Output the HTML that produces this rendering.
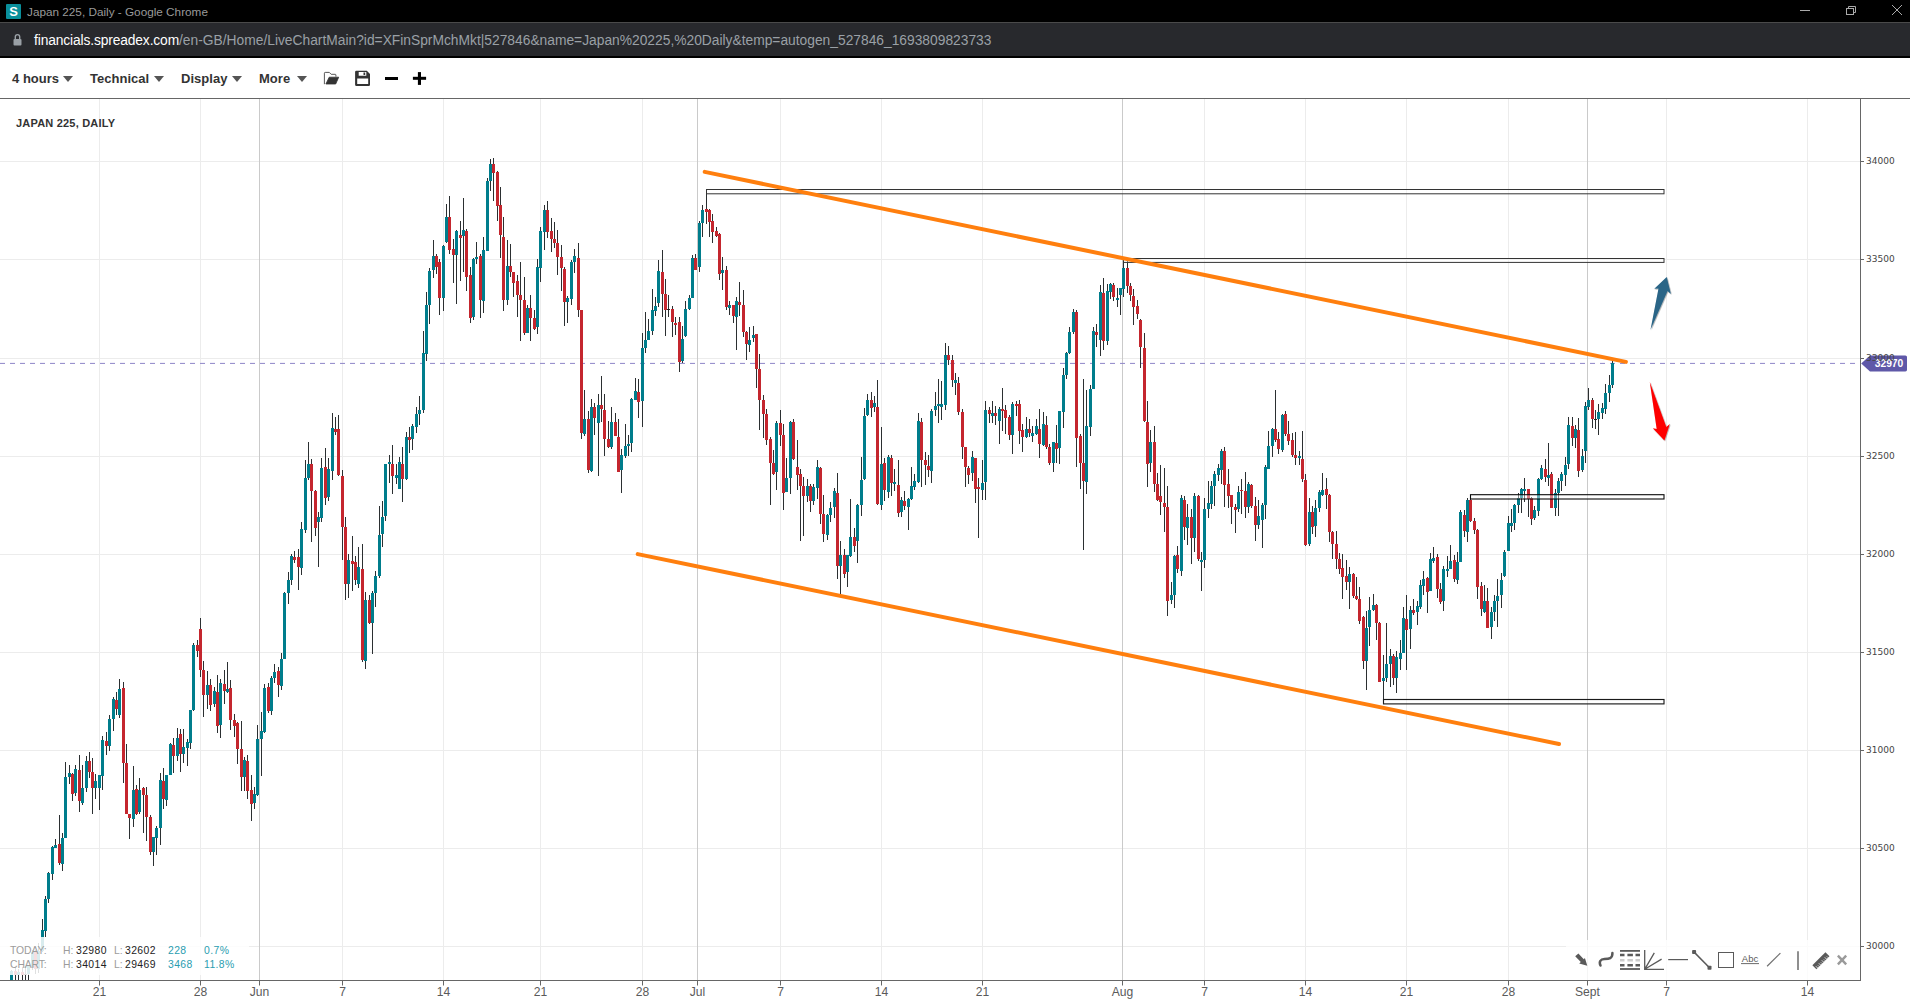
<!DOCTYPE html><html><head><meta charset="utf-8"><title>Japan 225, Daily</title><style>

html,body{margin:0;padding:0;background:#fff;}
body{width:1910px;height:1005px;overflow:hidden;position:relative;font-family:"Liberation Sans","DejaVu Sans",sans-serif;}
#titlebar{position:absolute;left:0;top:0;width:1910px;height:22px;background:#000;}
#titlebar .fav{position:absolute;left:6px;top:4px;width:15px;height:15px;background:#0a8f9b;color:#fff;font-weight:bold;font-size:13px;line-height:15px;text-align:center;border-radius:1px;}
#titlebar .ttl{position:absolute;left:27px;top:4.4px;font-size:11.75px;line-height:15px;color:#9a9a9a;white-space:nowrap;}
#urlbar{position:absolute;left:0;top:22px;width:1910px;height:36px;background:#28292d;border-top:1px solid #4a4a4a;box-sizing:border-box;border-bottom:2px solid #000;}
#urlbar .url{position:absolute;left:34px;top:8.8px;font-size:13.8px;line-height:18px;color:#9aa0a6;white-space:nowrap;}
#urlbar .url b{font-weight:normal;color:#fff;letter-spacing:-0.13px;}
#blk{position:absolute;left:0;top:57px;width:1910px;height:1px;background:#000;}
#toolbar{position:absolute;left:0;top:58px;width:1910px;height:40px;background:#fff;border-bottom:1px solid #666;}
#toolbar .mi{position:absolute;top:13px;font-size:13px;font-weight:bold;color:#333;line-height:16px;white-space:nowrap;letter-spacing:0.02px;}
#toolbar .car{position:absolute;top:18px;width:0;height:0;border-left:5px solid transparent;border-right:5px solid transparent;border-top:6px solid #555;}
.lbl{position:absolute;white-space:nowrap;color:#555;font-size:12px;line-height:14px;}
.yl{position:absolute;left:1866px;font-family:"DejaVu Sans","Liberation Sans",sans-serif;font-size:9px;line-height:12px;color:#444;white-space:nowrap;}
.xl{position:absolute;top:985px;font-size:12.1px;line-height:14px;color:#5a5a5a;white-space:nowrap;transform:translateX(-50%);}
#name{position:absolute;left:16px;top:117px;font-size:11px;line-height:13px;font-weight:bold;color:#333;letter-spacing:0.2px;white-space:nowrap;}
#stats{position:absolute;left:0px;top:937px;width:249px;height:37.8px;background:rgba(255,255,255,0.85);}
#stats span{position:absolute;font-size:10.4px;line-height:12px;white-space:nowrap;letter-spacing:0;}
#stats .g{color:#9c9c9c;letter-spacing:-0.12px;} #stats .k{color:#222;letter-spacing:0.4px;} #stats .t{color:#2a9db0;letter-spacing:0.4px;}
#dtools{position:absolute;left:1566px;top:940px;width:294px;height:40px;background:rgba(255,255,255,0.8);}
svg{position:absolute;left:0;top:0;}

</style></head><body>
<svg width="1910" height="1005" viewBox="0 0 1910 1005" style="z-index:1">
<line x1="0" x2="1860.5" y1="946.5" y2="946.5" stroke="#ececec" stroke-width="1"/>
<line x1="0" x2="1860.5" y1="848.5" y2="848.5" stroke="#ececec" stroke-width="1"/>
<line x1="0" x2="1860.5" y1="750.5" y2="750.5" stroke="#ececec" stroke-width="1"/>
<line x1="0" x2="1860.5" y1="652.5" y2="652.5" stroke="#ececec" stroke-width="1"/>
<line x1="0" x2="1860.5" y1="554.5" y2="554.5" stroke="#ececec" stroke-width="1"/>
<line x1="0" x2="1860.5" y1="456.5" y2="456.5" stroke="#ececec" stroke-width="1"/>
<line x1="0" x2="1860.5" y1="358.5" y2="358.5" stroke="#ececec" stroke-width="1"/>
<line x1="0" x2="1860.5" y1="259.5" y2="259.5" stroke="#ececec" stroke-width="1"/>
<line x1="0" x2="1860.5" y1="161.5" y2="161.5" stroke="#ececec" stroke-width="1"/>
<line x1="99.5" x2="99.5" y1="99.0" y2="980.5" stroke="#ececec" stroke-width="1"/>
<line x1="99.5" x2="99.5" y1="980.5" y2="985.5" stroke="#666" stroke-width="1"/>
<line x1="200.5" x2="200.5" y1="99.0" y2="980.5" stroke="#ececec" stroke-width="1"/>
<line x1="200.5" x2="200.5" y1="980.5" y2="985.5" stroke="#666" stroke-width="1"/>
<line x1="259.5" x2="259.5" y1="99.0" y2="980.5" stroke="#cacaca" stroke-width="1"/>
<line x1="259.5" x2="259.5" y1="980.5" y2="985.5" stroke="#666" stroke-width="1"/>
<line x1="342.5" x2="342.5" y1="99.0" y2="980.5" stroke="#ececec" stroke-width="1"/>
<line x1="342.5" x2="342.5" y1="980.5" y2="985.5" stroke="#666" stroke-width="1"/>
<line x1="443.5" x2="443.5" y1="99.0" y2="980.5" stroke="#ececec" stroke-width="1"/>
<line x1="443.5" x2="443.5" y1="980.5" y2="985.5" stroke="#666" stroke-width="1"/>
<line x1="540.5" x2="540.5" y1="99.0" y2="980.5" stroke="#ececec" stroke-width="1"/>
<line x1="540.5" x2="540.5" y1="980.5" y2="985.5" stroke="#666" stroke-width="1"/>
<line x1="642.5" x2="642.5" y1="99.0" y2="980.5" stroke="#ececec" stroke-width="1"/>
<line x1="642.5" x2="642.5" y1="980.5" y2="985.5" stroke="#666" stroke-width="1"/>
<line x1="697.5" x2="697.5" y1="99.0" y2="980.5" stroke="#cacaca" stroke-width="1"/>
<line x1="697.5" x2="697.5" y1="980.5" y2="985.5" stroke="#666" stroke-width="1"/>
<line x1="780.5" x2="780.5" y1="99.0" y2="980.5" stroke="#ececec" stroke-width="1"/>
<line x1="780.5" x2="780.5" y1="980.5" y2="985.5" stroke="#666" stroke-width="1"/>
<line x1="881.5" x2="881.5" y1="99.0" y2="980.5" stroke="#ececec" stroke-width="1"/>
<line x1="881.5" x2="881.5" y1="980.5" y2="985.5" stroke="#666" stroke-width="1"/>
<line x1="982.5" x2="982.5" y1="99.0" y2="980.5" stroke="#ececec" stroke-width="1"/>
<line x1="982.5" x2="982.5" y1="980.5" y2="985.5" stroke="#666" stroke-width="1"/>
<line x1="1122.5" x2="1122.5" y1="99.0" y2="980.5" stroke="#cacaca" stroke-width="1"/>
<line x1="1122.5" x2="1122.5" y1="980.5" y2="985.5" stroke="#666" stroke-width="1"/>
<line x1="1204.5" x2="1204.5" y1="99.0" y2="980.5" stroke="#ececec" stroke-width="1"/>
<line x1="1204.5" x2="1204.5" y1="980.5" y2="985.5" stroke="#666" stroke-width="1"/>
<line x1="1305.5" x2="1305.5" y1="99.0" y2="980.5" stroke="#ececec" stroke-width="1"/>
<line x1="1305.5" x2="1305.5" y1="980.5" y2="985.5" stroke="#666" stroke-width="1"/>
<line x1="1406.5" x2="1406.5" y1="99.0" y2="980.5" stroke="#ececec" stroke-width="1"/>
<line x1="1406.5" x2="1406.5" y1="980.5" y2="985.5" stroke="#666" stroke-width="1"/>
<line x1="1508.5" x2="1508.5" y1="99.0" y2="980.5" stroke="#ececec" stroke-width="1"/>
<line x1="1508.5" x2="1508.5" y1="980.5" y2="985.5" stroke="#666" stroke-width="1"/>
<line x1="1587.5" x2="1587.5" y1="99.0" y2="980.5" stroke="#cacaca" stroke-width="1"/>
<line x1="1587.5" x2="1587.5" y1="980.5" y2="985.5" stroke="#666" stroke-width="1"/>
<line x1="1666.5" x2="1666.5" y1="99.0" y2="980.5" stroke="#ececec" stroke-width="1"/>
<line x1="1666.5" x2="1666.5" y1="980.5" y2="985.5" stroke="#666" stroke-width="1"/>
<line x1="1807.5" x2="1807.5" y1="99.0" y2="980.5" stroke="#ececec" stroke-width="1"/>
<line x1="1807.5" x2="1807.5" y1="980.5" y2="985.5" stroke="#666" stroke-width="1"/>
<line x1="1860.5" x2="1860.5" y1="98.5" y2="981.0" stroke="#666" stroke-width="1"/>
<line x1="0" x2="1861.0" y1="980.5" y2="980.5" stroke="#666" stroke-width="1"/>
<line x1="1860.5" x2="1864.0" y1="946.5" y2="946.5" stroke="#666" stroke-width="1"/>
<line x1="1860.5" x2="1864.0" y1="848.5" y2="848.5" stroke="#666" stroke-width="1"/>
<line x1="1860.5" x2="1864.0" y1="750.5" y2="750.5" stroke="#666" stroke-width="1"/>
<line x1="1860.5" x2="1864.0" y1="652.5" y2="652.5" stroke="#666" stroke-width="1"/>
<line x1="1860.5" x2="1864.0" y1="554.5" y2="554.5" stroke="#666" stroke-width="1"/>
<line x1="1860.5" x2="1864.0" y1="456.5" y2="456.5" stroke="#666" stroke-width="1"/>
<line x1="1860.5" x2="1864.0" y1="358.5" y2="358.5" stroke="#666" stroke-width="1"/>
<line x1="1860.5" x2="1864.0" y1="259.5" y2="259.5" stroke="#666" stroke-width="1"/>
<line x1="1860.5" x2="1864.0" y1="161.5" y2="161.5" stroke="#666" stroke-width="1"/>
<line x1="0" x2="1855.5" y1="363.4" y2="363.4" stroke="#8f86c9" stroke-width="1" stroke-dasharray="5,5"/>
<g id="candles" shape-rendering="crispEdges">
<rect x="11" y="969.8" width="1" height="10.2" fill="#2b2f31"/>
<rect x="10" y="971.2" width="3" height="8.8" fill="#007d8c"/>
<rect x="15" y="966.7" width="1" height="13.3" fill="#2b2f31"/>
<rect x="14" y="971.0" width="3" height="3.5" fill="#c4262e"/>
<rect x="18" y="969.2" width="1" height="10.8" fill="#2b2f31"/>
<rect x="17" y="972.2" width="3" height="2.7" fill="#007d8c"/>
<rect x="22" y="966.7" width="1" height="13.3" fill="#2b2f31"/>
<rect x="21" y="972.2" width="3" height="2.7" fill="#c4262e"/>
<rect x="25" y="966.1" width="1" height="13.9" fill="#2b2f31"/>
<rect x="24" y="973.9" width="3" height="1.0" fill="#222"/>
<rect x="28" y="966.1" width="1" height="13.9" fill="#2b2f31"/>
<rect x="27" y="966.1" width="3" height="7.8" fill="#007d8c"/>
<rect x="32" y="950.4" width="1" height="19.4" fill="#2b2f31"/>
<rect x="31" y="952.4" width="3" height="14.3" fill="#007d8c"/>
<rect x="35" y="950.4" width="1" height="23.5" fill="#2b2f31"/>
<rect x="34" y="952.4" width="3" height="16.3" fill="#c4262e"/>
<rect x="38" y="943.3" width="1" height="29.6" fill="#2b2f31"/>
<rect x="37" y="951.2" width="3" height="17.3" fill="#007d8c"/>
<rect x="42" y="918.8" width="1" height="32.7" fill="#2b2f31"/>
<rect x="41" y="930.0" width="3" height="20.6" fill="#007d8c"/>
<rect x="45" y="896.3" width="1" height="40.8" fill="#2b2f31"/>
<rect x="44" y="899.4" width="3" height="31.6" fill="#007d8c"/>
<rect x="48" y="871.8" width="1" height="31.6" fill="#2b2f31"/>
<rect x="47" y="872.9" width="3" height="26.5" fill="#007d8c"/>
<rect x="52" y="846.3" width="1" height="33.7" fill="#2b2f31"/>
<rect x="51" y="847.3" width="3" height="26.5" fill="#007d8c"/>
<rect x="55" y="839.2" width="1" height="9.2" fill="#2b2f31"/>
<rect x="54" y="845.3" width="3" height="3.1" fill="#007d8c"/>
<rect x="59" y="814.7" width="1" height="50.0" fill="#2b2f31"/>
<rect x="58" y="844.3" width="3" height="18.4" fill="#c4262e"/>
<rect x="62" y="833.1" width="1" height="37.8" fill="#2b2f31"/>
<rect x="61" y="838.2" width="3" height="25.5" fill="#007d8c"/>
<rect x="65" y="762.4" width="1" height="75.7" fill="#2b2f31"/>
<rect x="64" y="776.7" width="3" height="61.4" fill="#007d8c"/>
<rect x="69" y="764.5" width="1" height="19.6" fill="#2b2f31"/>
<rect x="68" y="773.3" width="3" height="3.5" fill="#007d8c"/>
<rect x="72" y="772.7" width="1" height="27.8" fill="#2b2f31"/>
<rect x="71" y="773.7" width="3" height="20.6" fill="#c4262e"/>
<rect x="75" y="765.1" width="1" height="31.2" fill="#2b2f31"/>
<rect x="74" y="769.2" width="3" height="24.1" fill="#007d8c"/>
<rect x="79" y="755.3" width="1" height="56.3" fill="#2b2f31"/>
<rect x="78" y="770.0" width="3" height="31.4" fill="#c4262e"/>
<rect x="82" y="765.1" width="1" height="39.4" fill="#2b2f31"/>
<rect x="81" y="788.2" width="3" height="14.3" fill="#007d8c"/>
<rect x="86" y="756.3" width="1" height="35.7" fill="#2b2f31"/>
<rect x="85" y="761.0" width="3" height="26.7" fill="#007d8c"/>
<rect x="89" y="752.2" width="1" height="25.5" fill="#2b2f31"/>
<rect x="88" y="761.0" width="3" height="11.0" fill="#c4262e"/>
<rect x="92" y="758.4" width="1" height="55.3" fill="#2b2f31"/>
<rect x="91" y="772.2" width="3" height="15.9" fill="#c4262e"/>
<rect x="95" y="774.1" width="1" height="25.3" fill="#2b2f31"/>
<rect x="94" y="781.2" width="3" height="6.9" fill="#007d8c"/>
<rect x="99" y="774.7" width="1" height="34.9" fill="#2b2f31"/>
<rect x="98" y="775.1" width="3" height="12.7" fill="#007d8c"/>
<rect x="102" y="735.9" width="1" height="54.1" fill="#2b2f31"/>
<rect x="101" y="740.0" width="3" height="35.7" fill="#007d8c"/>
<rect x="106" y="732.2" width="1" height="22.7" fill="#2b2f31"/>
<rect x="105" y="741.0" width="3" height="5.1" fill="#c4262e"/>
<rect x="109" y="715.1" width="1" height="35.7" fill="#2b2f31"/>
<rect x="108" y="719.0" width="3" height="27.1" fill="#007d8c"/>
<rect x="113" y="697.1" width="1" height="33.7" fill="#2b2f31"/>
<rect x="112" y="699.2" width="3" height="19.8" fill="#007d8c"/>
<rect x="116" y="692.0" width="1" height="22.9" fill="#2b2f31"/>
<rect x="115" y="700.2" width="3" height="9.2" fill="#c4262e"/>
<rect x="119" y="679.0" width="1" height="39.0" fill="#2b2f31"/>
<rect x="118" y="689.0" width="3" height="25.9" fill="#007d8c"/>
<rect x="123" y="682.2" width="1" height="100.6" fill="#2b2f31"/>
<rect x="122" y="688.4" width="3" height="74.7" fill="#c4262e"/>
<rect x="126" y="744.1" width="1" height="69.6" fill="#2b2f31"/>
<rect x="125" y="763.1" width="3" height="50.6" fill="#c4262e"/>
<rect x="129" y="813.7" width="1" height="25.1" fill="#2b2f31"/>
<rect x="128" y="813.7" width="3" height="4.1" fill="#c4262e"/>
<rect x="133" y="765.9" width="1" height="61.4" fill="#2b2f31"/>
<rect x="132" y="790.2" width="3" height="28.6" fill="#007d8c"/>
<rect x="136" y="784.9" width="1" height="29.8" fill="#2b2f31"/>
<rect x="135" y="789.0" width="3" height="24.7" fill="#c4262e"/>
<rect x="139" y="778.2" width="1" height="35.5" fill="#2b2f31"/>
<rect x="138" y="790.0" width="3" height="22.2" fill="#007d8c"/>
<rect x="143" y="786.9" width="1" height="46.5" fill="#2b2f31"/>
<rect x="142" y="788.2" width="3" height="7.1" fill="#c4262e"/>
<rect x="146" y="786.9" width="1" height="53.9" fill="#2b2f31"/>
<rect x="145" y="795.3" width="3" height="21.4" fill="#c4262e"/>
<rect x="150" y="814.7" width="1" height="39.8" fill="#2b2f31"/>
<rect x="149" y="816.7" width="3" height="35.7" fill="#c4262e"/>
<rect x="153" y="837.1" width="1" height="28.6" fill="#2b2f31"/>
<rect x="152" y="837.1" width="3" height="15.3" fill="#007d8c"/>
<rect x="156" y="825.9" width="1" height="28.6" fill="#2b2f31"/>
<rect x="155" y="828.0" width="3" height="10.2" fill="#007d8c"/>
<rect x="160" y="772.9" width="1" height="71.6" fill="#2b2f31"/>
<rect x="159" y="780.4" width="3" height="47.3" fill="#007d8c"/>
<rect x="163" y="768.2" width="1" height="40.8" fill="#2b2f31"/>
<rect x="162" y="781.4" width="3" height="17.3" fill="#c4262e"/>
<rect x="166" y="775.3" width="1" height="30.6" fill="#2b2f31"/>
<rect x="165" y="775.3" width="3" height="24.5" fill="#007d8c"/>
<rect x="170" y="742.7" width="1" height="32.7" fill="#2b2f31"/>
<rect x="169" y="743.7" width="3" height="31.6" fill="#007d8c"/>
<rect x="173" y="737.6" width="1" height="35.7" fill="#2b2f31"/>
<rect x="172" y="744.7" width="3" height="11.2" fill="#c4262e"/>
<rect x="177" y="728.0" width="1" height="33.1" fill="#2b2f31"/>
<rect x="176" y="737.6" width="3" height="18.4" fill="#007d8c"/>
<rect x="180" y="729.4" width="1" height="42.4" fill="#2b2f31"/>
<rect x="179" y="734.1" width="3" height="19.8" fill="#c4262e"/>
<rect x="183" y="729.4" width="1" height="33.7" fill="#2b2f31"/>
<rect x="182" y="746.7" width="3" height="7.1" fill="#007d8c"/>
<rect x="187" y="739.0" width="1" height="27.1" fill="#2b2f31"/>
<rect x="186" y="742.2" width="3" height="5.5" fill="#007d8c"/>
<rect x="190" y="709.6" width="1" height="39.2" fill="#2b2f31"/>
<rect x="189" y="710.0" width="3" height="32.7" fill="#007d8c"/>
<rect x="193" y="642.7" width="1" height="68.4" fill="#2b2f31"/>
<rect x="192" y="645.1" width="3" height="65.3" fill="#007d8c"/>
<rect x="197" y="640.2" width="1" height="16.3" fill="#2b2f31"/>
<rect x="196" y="645.1" width="3" height="6.3" fill="#c4262e"/>
<rect x="200" y="618.2" width="1" height="59.2" fill="#2b2f31"/>
<rect x="199" y="629.4" width="3" height="40.2" fill="#c4262e"/>
<rect x="203" y="661.0" width="1" height="55.5" fill="#2b2f31"/>
<rect x="202" y="670.2" width="3" height="24.5" fill="#c4262e"/>
<rect x="207" y="671.2" width="1" height="37.8" fill="#2b2f31"/>
<rect x="206" y="685.1" width="3" height="9.6" fill="#007d8c"/>
<rect x="210" y="679.4" width="1" height="31.2" fill="#2b2f31"/>
<rect x="209" y="685.1" width="3" height="19.8" fill="#c4262e"/>
<rect x="214" y="687.1" width="1" height="19.8" fill="#2b2f31"/>
<rect x="213" y="691.2" width="3" height="12.7" fill="#007d8c"/>
<rect x="217" y="675.3" width="1" height="57.6" fill="#2b2f31"/>
<rect x="216" y="692.0" width="3" height="33.7" fill="#c4262e"/>
<rect x="220" y="679.4" width="1" height="58.6" fill="#2b2f31"/>
<rect x="219" y="683.1" width="3" height="41.6" fill="#007d8c"/>
<rect x="224" y="670.2" width="1" height="34.1" fill="#2b2f31"/>
<rect x="223" y="683.9" width="3" height="6.7" fill="#c4262e"/>
<rect x="227" y="662.0" width="1" height="31.2" fill="#2b2f31"/>
<rect x="226" y="689.2" width="3" height="2.4" fill="#007d8c"/>
<rect x="230" y="680.4" width="1" height="50.0" fill="#2b2f31"/>
<rect x="229" y="688.2" width="3" height="31.6" fill="#c4262e"/>
<rect x="234" y="713.5" width="1" height="23.1" fill="#2b2f31"/>
<rect x="233" y="720.2" width="3" height="5.5" fill="#c4262e"/>
<rect x="237" y="721.8" width="1" height="42.2" fill="#2b2f31"/>
<rect x="236" y="723.3" width="3" height="25.5" fill="#c4262e"/>
<rect x="241" y="721.2" width="1" height="69.4" fill="#2b2f31"/>
<rect x="240" y="749.2" width="3" height="27.6" fill="#c4262e"/>
<rect x="244" y="757.3" width="1" height="33.9" fill="#2b2f31"/>
<rect x="243" y="760.4" width="3" height="16.9" fill="#007d8c"/>
<rect x="247" y="755.3" width="1" height="43.5" fill="#2b2f31"/>
<rect x="246" y="761.0" width="3" height="29.6" fill="#c4262e"/>
<rect x="251" y="775.3" width="1" height="45.3" fill="#2b2f31"/>
<rect x="250" y="790.2" width="3" height="13.3" fill="#c4262e"/>
<rect x="254" y="786.5" width="1" height="22.4" fill="#2b2f31"/>
<rect x="253" y="794.3" width="3" height="8.6" fill="#007d8c"/>
<rect x="257" y="725.3" width="1" height="70.8" fill="#2b2f31"/>
<rect x="256" y="739.0" width="3" height="56.3" fill="#007d8c"/>
<rect x="261" y="712.0" width="1" height="63.7" fill="#2b2f31"/>
<rect x="260" y="731.4" width="3" height="7.6" fill="#007d8c"/>
<rect x="264" y="683.5" width="1" height="49.0" fill="#2b2f31"/>
<rect x="263" y="688.0" width="3" height="43.9" fill="#007d8c"/>
<rect x="268" y="683.1" width="1" height="29.6" fill="#2b2f31"/>
<rect x="267" y="687.1" width="3" height="23.5" fill="#c4262e"/>
<rect x="271" y="676.3" width="1" height="38.4" fill="#2b2f31"/>
<rect x="270" y="678.4" width="3" height="32.2" fill="#007d8c"/>
<rect x="274" y="664.1" width="1" height="19.0" fill="#2b2f31"/>
<rect x="273" y="672.2" width="3" height="5.5" fill="#007d8c"/>
<rect x="278" y="667.1" width="1" height="29.6" fill="#2b2f31"/>
<rect x="277" y="671.2" width="3" height="13.3" fill="#c4262e"/>
<rect x="281" y="653.3" width="1" height="36.7" fill="#2b2f31"/>
<rect x="280" y="659.0" width="3" height="26.5" fill="#007d8c"/>
<rect x="284" y="592.0" width="1" height="66.5" fill="#2b2f31"/>
<rect x="283" y="593.1" width="3" height="65.5" fill="#007d8c"/>
<rect x="288" y="572.2" width="1" height="31.4" fill="#2b2f31"/>
<rect x="287" y="580.4" width="3" height="12.2" fill="#007d8c"/>
<rect x="291" y="554.3" width="1" height="30.6" fill="#2b2f31"/>
<rect x="290" y="556.3" width="3" height="23.5" fill="#007d8c"/>
<rect x="294" y="551.2" width="1" height="12.2" fill="#2b2f31"/>
<rect x="293" y="557.3" width="3" height="3.1" fill="#c4262e"/>
<rect x="298" y="549.2" width="1" height="40.8" fill="#2b2f31"/>
<rect x="297" y="557.3" width="3" height="9.2" fill="#c4262e"/>
<rect x="301" y="522.0" width="1" height="52.7" fill="#2b2f31"/>
<rect x="300" y="529.2" width="3" height="38.4" fill="#007d8c"/>
<rect x="305" y="460.4" width="1" height="72.4" fill="#2b2f31"/>
<rect x="304" y="478.2" width="3" height="51.6" fill="#007d8c"/>
<rect x="308" y="442.0" width="1" height="37.8" fill="#2b2f31"/>
<rect x="307" y="464.1" width="3" height="14.1" fill="#007d8c"/>
<rect x="311" y="459.4" width="1" height="82.2" fill="#2b2f31"/>
<rect x="310" y="464.1" width="3" height="27.3" fill="#c4262e"/>
<rect x="315" y="490.0" width="1" height="45.9" fill="#2b2f31"/>
<rect x="314" y="491.0" width="3" height="36.7" fill="#c4262e"/>
<rect x="318" y="511.8" width="1" height="55.1" fill="#2b2f31"/>
<rect x="317" y="517.1" width="3" height="4.5" fill="#007d8c"/>
<rect x="321" y="458.0" width="1" height="64.1" fill="#2b2f31"/>
<rect x="320" y="468.2" width="3" height="49.4" fill="#007d8c"/>
<rect x="325" y="448.2" width="1" height="56.7" fill="#2b2f31"/>
<rect x="324" y="467.1" width="3" height="30.6" fill="#c4262e"/>
<rect x="328" y="458.0" width="1" height="42.9" fill="#2b2f31"/>
<rect x="327" y="469.2" width="3" height="27.6" fill="#007d8c"/>
<rect x="332" y="413.1" width="1" height="67.3" fill="#2b2f31"/>
<rect x="331" y="428.2" width="3" height="42.4" fill="#007d8c"/>
<rect x="335" y="416.5" width="1" height="18.4" fill="#2b2f31"/>
<rect x="334" y="429.4" width="3" height="2.4" fill="#c4262e"/>
<rect x="338" y="415.1" width="1" height="60.6" fill="#2b2f31"/>
<rect x="337" y="428.8" width="3" height="46.3" fill="#c4262e"/>
<rect x="342" y="470.2" width="1" height="89.6" fill="#2b2f31"/>
<rect x="341" y="476.1" width="3" height="50.6" fill="#c4262e"/>
<rect x="345" y="517.1" width="1" height="82.4" fill="#2b2f31"/>
<rect x="344" y="527.1" width="3" height="56.7" fill="#c4262e"/>
<rect x="348" y="554.3" width="1" height="43.3" fill="#2b2f31"/>
<rect x="347" y="560.4" width="3" height="23.5" fill="#007d8c"/>
<rect x="352" y="535.9" width="1" height="54.7" fill="#2b2f31"/>
<rect x="351" y="561.4" width="3" height="2.4" fill="#c4262e"/>
<rect x="355" y="556.3" width="1" height="29.0" fill="#2b2f31"/>
<rect x="354" y="562.4" width="3" height="17.3" fill="#c4262e"/>
<rect x="358" y="547.1" width="1" height="40.8" fill="#2b2f31"/>
<rect x="357" y="566.5" width="3" height="17.3" fill="#007d8c"/>
<rect x="362" y="544.1" width="1" height="117.6" fill="#2b2f31"/>
<rect x="361" y="568.6" width="3" height="91.1" fill="#c4262e"/>
<rect x="365" y="592.0" width="1" height="76.8" fill="#2b2f31"/>
<rect x="364" y="600.2" width="3" height="60.6" fill="#007d8c"/>
<rect x="369" y="594.5" width="1" height="29.2" fill="#2b2f31"/>
<rect x="368" y="600.2" width="3" height="22.9" fill="#c4262e"/>
<rect x="372" y="591.0" width="1" height="62.7" fill="#2b2f31"/>
<rect x="371" y="593.1" width="3" height="29.6" fill="#007d8c"/>
<rect x="375" y="571.2" width="1" height="35.7" fill="#2b2f31"/>
<rect x="374" y="576.3" width="3" height="16.7" fill="#007d8c"/>
<rect x="379" y="505.7" width="1" height="72.0" fill="#2b2f31"/>
<rect x="378" y="535.3" width="3" height="41.0" fill="#007d8c"/>
<rect x="382" y="500.8" width="1" height="45.9" fill="#2b2f31"/>
<rect x="381" y="516.5" width="3" height="17.3" fill="#007d8c"/>
<rect x="385" y="463.5" width="1" height="57.1" fill="#2b2f31"/>
<rect x="384" y="464.1" width="3" height="51.8" fill="#007d8c"/>
<rect x="389" y="454.7" width="1" height="28.2" fill="#2b2f31"/>
<rect x="388" y="462.4" width="3" height="2.0" fill="#007d8c"/>
<rect x="392" y="445.1" width="1" height="49.0" fill="#2b2f31"/>
<rect x="391" y="463.5" width="3" height="12.2" fill="#c4262e"/>
<rect x="396" y="464.1" width="1" height="19.8" fill="#2b2f31"/>
<rect x="395" y="475.1" width="3" height="2.7" fill="#007d8c"/>
<rect x="399" y="457.3" width="1" height="31.6" fill="#2b2f31"/>
<rect x="398" y="462.4" width="3" height="26.1" fill="#007d8c"/>
<rect x="402" y="447.1" width="1" height="54.5" fill="#2b2f31"/>
<rect x="401" y="463.5" width="3" height="15.3" fill="#c4262e"/>
<rect x="406" y="431.8" width="1" height="48.0" fill="#2b2f31"/>
<rect x="405" y="436.9" width="3" height="41.8" fill="#007d8c"/>
<rect x="409" y="426.7" width="1" height="25.9" fill="#2b2f31"/>
<rect x="408" y="436.9" width="3" height="3.1" fill="#c4262e"/>
<rect x="412" y="423.7" width="1" height="26.1" fill="#2b2f31"/>
<rect x="411" y="425.7" width="3" height="13.3" fill="#007d8c"/>
<rect x="416" y="407.3" width="1" height="25.5" fill="#2b2f31"/>
<rect x="415" y="413.9" width="3" height="12.9" fill="#007d8c"/>
<rect x="419" y="396.1" width="1" height="28.6" fill="#2b2f31"/>
<rect x="418" y="410.4" width="3" height="3.1" fill="#007d8c"/>
<rect x="423" y="330.8" width="1" height="82.2" fill="#2b2f31"/>
<rect x="422" y="353.3" width="3" height="56.5" fill="#007d8c"/>
<rect x="426" y="292.0" width="1" height="68.8" fill="#2b2f31"/>
<rect x="425" y="305.3" width="3" height="48.4" fill="#007d8c"/>
<rect x="429" y="268.2" width="1" height="55.5" fill="#2b2f31"/>
<rect x="428" y="270.6" width="3" height="34.3" fill="#007d8c"/>
<rect x="433" y="240.0" width="1" height="37.8" fill="#2b2f31"/>
<rect x="432" y="256.3" width="3" height="13.3" fill="#007d8c"/>
<rect x="436" y="254.3" width="1" height="19.4" fill="#2b2f31"/>
<rect x="435" y="256.3" width="3" height="10.2" fill="#c4262e"/>
<rect x="439" y="259.0" width="1" height="55.5" fill="#2b2f31"/>
<rect x="438" y="262.4" width="3" height="35.3" fill="#c4262e"/>
<rect x="443" y="245.1" width="1" height="65.9" fill="#2b2f31"/>
<rect x="442" y="245.5" width="3" height="52.2" fill="#007d8c"/>
<rect x="446" y="203.9" width="1" height="38.8" fill="#2b2f31"/>
<rect x="445" y="217.1" width="3" height="24.9" fill="#007d8c"/>
<rect x="449" y="196.1" width="1" height="57.8" fill="#2b2f31"/>
<rect x="448" y="217.1" width="3" height="32.7" fill="#c4262e"/>
<rect x="453" y="239.4" width="1" height="43.5" fill="#2b2f31"/>
<rect x="452" y="249.2" width="3" height="5.5" fill="#c4262e"/>
<rect x="456" y="229.8" width="1" height="74.1" fill="#2b2f31"/>
<rect x="455" y="231.2" width="3" height="23.5" fill="#007d8c"/>
<rect x="460" y="221.0" width="1" height="59.8" fill="#2b2f31"/>
<rect x="459" y="235.3" width="3" height="2.2" fill="#c4262e"/>
<rect x="463" y="198.2" width="1" height="73.5" fill="#2b2f31"/>
<rect x="462" y="230.2" width="3" height="5.7" fill="#007d8c"/>
<rect x="466" y="228.8" width="1" height="61.8" fill="#2b2f31"/>
<rect x="465" y="231.2" width="3" height="45.5" fill="#c4262e"/>
<rect x="470" y="266.5" width="1" height="56.1" fill="#2b2f31"/>
<rect x="469" y="275.1" width="3" height="42.9" fill="#c4262e"/>
<rect x="473" y="258.0" width="1" height="61.6" fill="#2b2f31"/>
<rect x="472" y="259.4" width="3" height="57.1" fill="#007d8c"/>
<rect x="476" y="242.0" width="1" height="22.4" fill="#2b2f31"/>
<rect x="475" y="257.3" width="3" height="2.0" fill="#007d8c"/>
<rect x="480" y="254.3" width="1" height="63.7" fill="#2b2f31"/>
<rect x="479" y="256.3" width="3" height="43.5" fill="#c4262e"/>
<rect x="483" y="237.3" width="1" height="75.7" fill="#2b2f31"/>
<rect x="482" y="250.2" width="3" height="50.4" fill="#007d8c"/>
<rect x="487" y="177.8" width="1" height="73.1" fill="#2b2f31"/>
<rect x="486" y="180.8" width="3" height="70.0" fill="#007d8c"/>
<rect x="490" y="159.0" width="1" height="32.0" fill="#2b2f31"/>
<rect x="489" y="164.1" width="3" height="16.7" fill="#007d8c"/>
<rect x="493" y="158.0" width="1" height="42.7" fill="#2b2f31"/>
<rect x="492" y="164.1" width="3" height="8.6" fill="#c4262e"/>
<rect x="497" y="171.0" width="1" height="49.6" fill="#2b2f31"/>
<rect x="496" y="172.2" width="3" height="34.1" fill="#c4262e"/>
<rect x="500" y="186.9" width="1" height="71.0" fill="#2b2f31"/>
<rect x="499" y="205.3" width="3" height="29.6" fill="#c4262e"/>
<rect x="503" y="217.1" width="1" height="93.9" fill="#2b2f31"/>
<rect x="502" y="237.3" width="3" height="62.4" fill="#c4262e"/>
<rect x="507" y="240.0" width="1" height="64.9" fill="#2b2f31"/>
<rect x="506" y="265.5" width="3" height="34.3" fill="#007d8c"/>
<rect x="510" y="244.1" width="1" height="33.1" fill="#2b2f31"/>
<rect x="509" y="265.5" width="3" height="6.1" fill="#c4262e"/>
<rect x="513" y="271.6" width="1" height="25.5" fill="#2b2f31"/>
<rect x="512" y="272.2" width="3" height="10.6" fill="#c4262e"/>
<rect x="517" y="274.7" width="1" height="41.8" fill="#2b2f31"/>
<rect x="516" y="281.2" width="3" height="13.5" fill="#c4262e"/>
<rect x="520" y="262.0" width="1" height="79.0" fill="#2b2f31"/>
<rect x="519" y="295.1" width="3" height="4.7" fill="#c4262e"/>
<rect x="524" y="277.1" width="1" height="57.8" fill="#2b2f31"/>
<rect x="523" y="300.2" width="3" height="32.7" fill="#c4262e"/>
<rect x="527" y="304.9" width="1" height="28.0" fill="#2b2f31"/>
<rect x="526" y="308.4" width="3" height="24.5" fill="#007d8c"/>
<rect x="530" y="295.1" width="1" height="45.9" fill="#2b2f31"/>
<rect x="529" y="308.4" width="3" height="9.2" fill="#c4262e"/>
<rect x="534" y="310.4" width="1" height="19.4" fill="#2b2f31"/>
<rect x="533" y="318.0" width="3" height="10.8" fill="#c4262e"/>
<rect x="537" y="259.4" width="1" height="74.5" fill="#2b2f31"/>
<rect x="536" y="267.1" width="3" height="59.6" fill="#007d8c"/>
<rect x="540" y="226.7" width="1" height="55.1" fill="#2b2f31"/>
<rect x="539" y="231.2" width="3" height="36.3" fill="#007d8c"/>
<rect x="544" y="205.3" width="1" height="44.9" fill="#2b2f31"/>
<rect x="543" y="210.0" width="3" height="21.8" fill="#007d8c"/>
<rect x="547" y="200.8" width="1" height="37.1" fill="#2b2f31"/>
<rect x="546" y="210.0" width="3" height="21.8" fill="#c4262e"/>
<rect x="551" y="218.2" width="1" height="33.7" fill="#2b2f31"/>
<rect x="550" y="231.2" width="3" height="7.8" fill="#c4262e"/>
<rect x="554" y="222.0" width="1" height="25.7" fill="#2b2f31"/>
<rect x="553" y="239.0" width="3" height="3.7" fill="#c4262e"/>
<rect x="557" y="229.8" width="1" height="44.9" fill="#2b2f31"/>
<rect x="556" y="243.1" width="3" height="13.7" fill="#c4262e"/>
<rect x="561" y="245.0" width="1" height="45.5" fill="#2b2f31"/>
<rect x="560" y="257.2" width="3" height="11.2" fill="#c4262e"/>
<rect x="564" y="267.4" width="1" height="58.2" fill="#2b2f31"/>
<rect x="563" y="268.9" width="3" height="32.7" fill="#c4262e"/>
<rect x="567" y="296.0" width="1" height="26.9" fill="#2b2f31"/>
<rect x="566" y="298.1" width="3" height="3.5" fill="#007d8c"/>
<rect x="571" y="259.9" width="1" height="44.9" fill="#2b2f31"/>
<rect x="570" y="261.9" width="3" height="36.7" fill="#007d8c"/>
<rect x="574" y="249.1" width="1" height="23.5" fill="#2b2f31"/>
<rect x="573" y="256.2" width="3" height="5.5" fill="#007d8c"/>
<rect x="578" y="243.0" width="1" height="73.9" fill="#2b2f31"/>
<rect x="577" y="258.3" width="3" height="51.4" fill="#c4262e"/>
<rect x="581" y="309.7" width="1" height="129.3" fill="#2b2f31"/>
<rect x="580" y="310.3" width="3" height="122.6" fill="#c4262e"/>
<rect x="584" y="390.0" width="1" height="46.3" fill="#2b2f31"/>
<rect x="583" y="419.2" width="3" height="14.3" fill="#007d8c"/>
<rect x="588" y="411.0" width="1" height="61.6" fill="#2b2f31"/>
<rect x="587" y="419.2" width="3" height="50.4" fill="#c4262e"/>
<rect x="591" y="399.2" width="1" height="72.4" fill="#2b2f31"/>
<rect x="590" y="406.9" width="3" height="63.7" fill="#007d8c"/>
<rect x="594" y="403.3" width="1" height="31.6" fill="#2b2f31"/>
<rect x="593" y="407.3" width="3" height="10.2" fill="#c4262e"/>
<rect x="598" y="394.1" width="1" height="81.6" fill="#2b2f31"/>
<rect x="597" y="405.3" width="3" height="17.3" fill="#007d8c"/>
<rect x="601" y="376.1" width="1" height="45.5" fill="#2b2f31"/>
<rect x="600" y="405.3" width="3" height="4.1" fill="#c4262e"/>
<rect x="604" y="394.1" width="1" height="61.8" fill="#2b2f31"/>
<rect x="603" y="410.0" width="3" height="29.0" fill="#c4262e"/>
<rect x="608" y="421.0" width="1" height="27.1" fill="#2b2f31"/>
<rect x="607" y="439.0" width="3" height="8.2" fill="#c4262e"/>
<rect x="611" y="406.9" width="1" height="41.6" fill="#2b2f31"/>
<rect x="610" y="422.0" width="3" height="24.5" fill="#007d8c"/>
<rect x="615" y="413.1" width="1" height="22.9" fill="#2b2f31"/>
<rect x="614" y="422.0" width="3" height="13.5" fill="#c4262e"/>
<rect x="618" y="419.2" width="1" height="53.1" fill="#2b2f31"/>
<rect x="617" y="437.3" width="3" height="34.3" fill="#c4262e"/>
<rect x="621" y="449.2" width="1" height="43.5" fill="#2b2f31"/>
<rect x="620" y="455.3" width="3" height="14.3" fill="#007d8c"/>
<rect x="625" y="424.1" width="1" height="33.7" fill="#2b2f31"/>
<rect x="624" y="445.5" width="3" height="10.2" fill="#007d8c"/>
<rect x="628" y="434.9" width="1" height="20.8" fill="#2b2f31"/>
<rect x="627" y="443.5" width="3" height="2.2" fill="#007d8c"/>
<rect x="631" y="397.6" width="1" height="54.3" fill="#2b2f31"/>
<rect x="630" y="399.2" width="3" height="43.5" fill="#007d8c"/>
<rect x="635" y="377.8" width="1" height="21.8" fill="#2b2f31"/>
<rect x="634" y="391.0" width="3" height="8.6" fill="#007d8c"/>
<rect x="638" y="378.8" width="1" height="39.2" fill="#2b2f31"/>
<rect x="637" y="392.0" width="3" height="9.8" fill="#c4262e"/>
<rect x="642" y="333.2" width="1" height="93.6" fill="#2b2f31"/>
<rect x="641" y="348.1" width="3" height="53.2" fill="#007d8c"/>
<rect x="645" y="311.9" width="1" height="41.2" fill="#2b2f31"/>
<rect x="644" y="339.5" width="3" height="8.6" fill="#007d8c"/>
<rect x="648" y="318.5" width="1" height="21.8" fill="#2b2f31"/>
<rect x="647" y="331.3" width="3" height="8.2" fill="#007d8c"/>
<rect x="652" y="288.9" width="1" height="46.5" fill="#2b2f31"/>
<rect x="651" y="310.3" width="3" height="21.0" fill="#007d8c"/>
<rect x="655" y="297.0" width="1" height="18.8" fill="#2b2f31"/>
<rect x="654" y="306.2" width="3" height="4.5" fill="#007d8c"/>
<rect x="658" y="259.9" width="1" height="46.9" fill="#2b2f31"/>
<rect x="657" y="270.9" width="3" height="31.8" fill="#007d8c"/>
<rect x="662" y="249.7" width="1" height="67.1" fill="#2b2f31"/>
<rect x="661" y="272.1" width="3" height="21.8" fill="#c4262e"/>
<rect x="665" y="279.1" width="1" height="56.7" fill="#2b2f31"/>
<rect x="664" y="294.4" width="3" height="15.3" fill="#c4262e"/>
<rect x="668" y="295.0" width="1" height="22.4" fill="#2b2f31"/>
<rect x="667" y="309.3" width="3" height="1.0" fill="#222"/>
<rect x="672" y="306.2" width="1" height="30.6" fill="#2b2f31"/>
<rect x="671" y="309.3" width="3" height="12.2" fill="#c4262e"/>
<rect x="675" y="317.4" width="1" height="17.3" fill="#2b2f31"/>
<rect x="674" y="322.6" width="3" height="2.0" fill="#c4262e"/>
<rect x="679" y="317.0" width="1" height="54.5" fill="#2b2f31"/>
<rect x="678" y="321.5" width="3" height="40.4" fill="#c4262e"/>
<rect x="682" y="325.6" width="1" height="37.8" fill="#2b2f31"/>
<rect x="681" y="338.5" width="3" height="22.2" fill="#007d8c"/>
<rect x="685" y="301.1" width="1" height="35.7" fill="#2b2f31"/>
<rect x="684" y="309.3" width="3" height="27.1" fill="#007d8c"/>
<rect x="689" y="295.0" width="1" height="14.7" fill="#2b2f31"/>
<rect x="688" y="298.1" width="3" height="10.8" fill="#007d8c"/>
<rect x="692" y="255.2" width="1" height="42.4" fill="#2b2f31"/>
<rect x="691" y="258.3" width="3" height="39.4" fill="#007d8c"/>
<rect x="695" y="254.2" width="1" height="15.9" fill="#2b2f31"/>
<rect x="694" y="258.3" width="3" height="11.2" fill="#c4262e"/>
<rect x="699" y="220.5" width="1" height="51.6" fill="#2b2f31"/>
<rect x="698" y="223.2" width="3" height="43.7" fill="#007d8c"/>
<rect x="702" y="205.2" width="1" height="31.6" fill="#2b2f31"/>
<rect x="701" y="210.3" width="3" height="12.2" fill="#007d8c"/>
<rect x="706" y="193.8" width="1" height="29.8" fill="#2b2f31"/>
<rect x="705" y="209.3" width="3" height="2.4" fill="#c4262e"/>
<rect x="709" y="209.3" width="1" height="27.6" fill="#2b2f31"/>
<rect x="708" y="210.3" width="3" height="11.2" fill="#c4262e"/>
<rect x="712" y="214.0" width="1" height="29.0" fill="#2b2f31"/>
<rect x="711" y="221.1" width="3" height="10.6" fill="#c4262e"/>
<rect x="716" y="226.6" width="1" height="10.2" fill="#2b2f31"/>
<rect x="715" y="231.3" width="3" height="5.1" fill="#c4262e"/>
<rect x="719" y="232.8" width="1" height="46.9" fill="#2b2f31"/>
<rect x="718" y="234.2" width="3" height="39.4" fill="#c4262e"/>
<rect x="722" y="257.2" width="1" height="32.7" fill="#2b2f31"/>
<rect x="721" y="269.5" width="3" height="3.1" fill="#007d8c"/>
<rect x="726" y="266.4" width="1" height="43.3" fill="#2b2f31"/>
<rect x="725" y="269.5" width="3" height="37.1" fill="#c4262e"/>
<rect x="729" y="301.1" width="1" height="13.9" fill="#2b2f31"/>
<rect x="728" y="305.2" width="3" height="2.4" fill="#007d8c"/>
<rect x="733" y="305.2" width="1" height="17.8" fill="#2b2f31"/>
<rect x="732" y="305.2" width="3" height="10.6" fill="#c4262e"/>
<rect x="736" y="297.0" width="1" height="52.7" fill="#2b2f31"/>
<rect x="735" y="300.5" width="3" height="16.9" fill="#007d8c"/>
<rect x="739" y="282.1" width="1" height="33.7" fill="#2b2f31"/>
<rect x="738" y="301.5" width="3" height="3.1" fill="#c4262e"/>
<rect x="743" y="289.9" width="1" height="46.9" fill="#2b2f31"/>
<rect x="742" y="304.6" width="3" height="27.8" fill="#c4262e"/>
<rect x="746" y="331.3" width="1" height="28.4" fill="#2b2f31"/>
<rect x="745" y="331.7" width="3" height="11.8" fill="#c4262e"/>
<rect x="749" y="327.0" width="1" height="24.7" fill="#2b2f31"/>
<rect x="748" y="339.5" width="3" height="5.5" fill="#007d8c"/>
<rect x="753" y="326.2" width="1" height="15.3" fill="#2b2f31"/>
<rect x="752" y="335.2" width="3" height="2.7" fill="#007d8c"/>
<rect x="756" y="333.8" width="1" height="54.1" fill="#2b2f31"/>
<rect x="755" y="334.4" width="3" height="34.1" fill="#c4262e"/>
<rect x="759" y="354.2" width="1" height="75.7" fill="#2b2f31"/>
<rect x="758" y="369.1" width="3" height="31.2" fill="#c4262e"/>
<rect x="763" y="394.8" width="1" height="42.9" fill="#2b2f31"/>
<rect x="762" y="400.3" width="3" height="13.3" fill="#c4262e"/>
<rect x="766" y="409.1" width="1" height="35.7" fill="#2b2f31"/>
<rect x="765" y="414.2" width="3" height="25.5" fill="#c4262e"/>
<rect x="770" y="437.0" width="1" height="67.8" fill="#2b2f31"/>
<rect x="769" y="439.1" width="3" height="23.9" fill="#c4262e"/>
<rect x="773" y="450.3" width="1" height="24.5" fill="#2b2f31"/>
<rect x="772" y="463.0" width="3" height="11.2" fill="#c4262e"/>
<rect x="776" y="421.1" width="1" height="69.0" fill="#2b2f31"/>
<rect x="775" y="423.2" width="3" height="48.6" fill="#007d8c"/>
<rect x="780" y="409.9" width="1" height="36.3" fill="#2b2f31"/>
<rect x="779" y="423.2" width="3" height="11.4" fill="#c4262e"/>
<rect x="783" y="424.2" width="1" height="85.7" fill="#2b2f31"/>
<rect x="782" y="434.6" width="3" height="58.2" fill="#c4262e"/>
<rect x="786" y="458.1" width="1" height="34.1" fill="#2b2f31"/>
<rect x="785" y="478.3" width="3" height="13.5" fill="#007d8c"/>
<rect x="790" y="421.3" width="1" height="72.2" fill="#2b2f31"/>
<rect x="789" y="422.3" width="3" height="55.5" fill="#007d8c"/>
<rect x="793" y="419.3" width="1" height="40.8" fill="#2b2f31"/>
<rect x="792" y="422.3" width="3" height="37.1" fill="#c4262e"/>
<rect x="797" y="440.1" width="1" height="50.0" fill="#2b2f31"/>
<rect x="796" y="467.2" width="3" height="7.6" fill="#c4262e"/>
<rect x="800" y="469.1" width="1" height="72.0" fill="#2b2f31"/>
<rect x="799" y="474.2" width="3" height="11.8" fill="#c4262e"/>
<rect x="803" y="477.2" width="1" height="58.8" fill="#2b2f31"/>
<rect x="802" y="486.0" width="3" height="9.8" fill="#c4262e"/>
<rect x="807" y="479.3" width="1" height="22.7" fill="#2b2f31"/>
<rect x="806" y="486.4" width="3" height="9.4" fill="#007d8c"/>
<rect x="810" y="483.6" width="1" height="28.0" fill="#2b2f31"/>
<rect x="809" y="486.4" width="3" height="14.3" fill="#c4262e"/>
<rect x="813" y="484.4" width="1" height="20.4" fill="#2b2f31"/>
<rect x="812" y="487.4" width="3" height="13.3" fill="#007d8c"/>
<rect x="817" y="459.5" width="1" height="39.2" fill="#2b2f31"/>
<rect x="816" y="467.2" width="3" height="20.4" fill="#007d8c"/>
<rect x="820" y="467.0" width="1" height="56.7" fill="#2b2f31"/>
<rect x="819" y="467.7" width="3" height="46.3" fill="#c4262e"/>
<rect x="823" y="495.2" width="1" height="46.5" fill="#2b2f31"/>
<rect x="822" y="514.0" width="3" height="20.0" fill="#c4262e"/>
<rect x="827" y="514.0" width="1" height="25.7" fill="#2b2f31"/>
<rect x="826" y="514.6" width="3" height="20.4" fill="#007d8c"/>
<rect x="830" y="502.3" width="1" height="19.8" fill="#2b2f31"/>
<rect x="829" y="508.1" width="3" height="6.5" fill="#007d8c"/>
<rect x="834" y="488.1" width="1" height="29.6" fill="#2b2f31"/>
<rect x="833" y="490.5" width="3" height="16.9" fill="#007d8c"/>
<rect x="837" y="473.2" width="1" height="105.7" fill="#2b2f31"/>
<rect x="836" y="493.2" width="3" height="72.4" fill="#c4262e"/>
<rect x="840" y="540.8" width="1" height="52.7" fill="#2b2f31"/>
<rect x="839" y="555.4" width="3" height="10.2" fill="#007d8c"/>
<rect x="844" y="548.9" width="1" height="29.0" fill="#2b2f31"/>
<rect x="843" y="555.4" width="3" height="18.4" fill="#c4262e"/>
<rect x="847" y="554.5" width="1" height="32.2" fill="#2b2f31"/>
<rect x="846" y="555.1" width="3" height="17.3" fill="#007d8c"/>
<rect x="850" y="499.0" width="1" height="58.1" fill="#2b2f31"/>
<rect x="849" y="537.1" width="3" height="18.4" fill="#007d8c"/>
<rect x="854" y="528.2" width="1" height="23.9" fill="#2b2f31"/>
<rect x="853" y="537.1" width="3" height="8.4" fill="#c4262e"/>
<rect x="857" y="503.7" width="1" height="59.0" fill="#2b2f31"/>
<rect x="856" y="505.1" width="3" height="36.3" fill="#007d8c"/>
<rect x="861" y="457.1" width="1" height="58.6" fill="#2b2f31"/>
<rect x="860" y="480.2" width="3" height="24.5" fill="#007d8c"/>
<rect x="864" y="408.2" width="1" height="71.4" fill="#2b2f31"/>
<rect x="863" y="416.3" width="3" height="62.2" fill="#007d8c"/>
<rect x="867" y="394.0" width="1" height="21.5" fill="#2b2f31"/>
<rect x="866" y="400.0" width="3" height="15.3" fill="#007d8c"/>
<rect x="871" y="392.2" width="1" height="24.5" fill="#2b2f31"/>
<rect x="870" y="400.2" width="3" height="7.5" fill="#c4262e"/>
<rect x="874" y="396.2" width="1" height="15.8" fill="#2b2f31"/>
<rect x="873" y="403.1" width="3" height="4.1" fill="#007d8c"/>
<rect x="877" y="380.1" width="1" height="124.6" fill="#2b2f31"/>
<rect x="876" y="407.2" width="3" height="96.5" fill="#c4262e"/>
<rect x="881" y="426.9" width="1" height="82.7" fill="#2b2f31"/>
<rect x="880" y="463.9" width="3" height="40.8" fill="#007d8c"/>
<rect x="884" y="458.2" width="1" height="42.4" fill="#2b2f31"/>
<rect x="883" y="463.3" width="3" height="27.1" fill="#c4262e"/>
<rect x="888" y="455.1" width="1" height="42.9" fill="#2b2f31"/>
<rect x="887" y="457.1" width="3" height="34.7" fill="#007d8c"/>
<rect x="891" y="454.7" width="1" height="41.6" fill="#2b2f31"/>
<rect x="890" y="458.2" width="3" height="25.1" fill="#c4262e"/>
<rect x="894" y="469.0" width="1" height="22.4" fill="#2b2f31"/>
<rect x="893" y="482.0" width="3" height="2.2" fill="#007d8c"/>
<rect x="898" y="460.2" width="1" height="56.5" fill="#2b2f31"/>
<rect x="897" y="485.3" width="3" height="27.3" fill="#c4262e"/>
<rect x="901" y="496.9" width="1" height="19.8" fill="#2b2f31"/>
<rect x="900" y="500.0" width="3" height="11.6" fill="#007d8c"/>
<rect x="904" y="491.2" width="1" height="18.6" fill="#2b2f31"/>
<rect x="903" y="501.0" width="3" height="4.7" fill="#c4262e"/>
<rect x="908" y="498.0" width="1" height="31.6" fill="#2b2f31"/>
<rect x="907" y="499.4" width="3" height="7.3" fill="#007d8c"/>
<rect x="911" y="466.9" width="1" height="33.1" fill="#2b2f31"/>
<rect x="910" y="486.1" width="3" height="13.3" fill="#007d8c"/>
<rect x="914" y="473.9" width="1" height="15.9" fill="#2b2f31"/>
<rect x="913" y="481.0" width="3" height="5.7" fill="#007d8c"/>
<rect x="918" y="413.3" width="1" height="69.4" fill="#2b2f31"/>
<rect x="917" y="421.0" width="3" height="61.2" fill="#007d8c"/>
<rect x="921" y="418.0" width="1" height="68.8" fill="#2b2f31"/>
<rect x="920" y="422.4" width="3" height="37.3" fill="#c4262e"/>
<rect x="925" y="452.0" width="1" height="32.7" fill="#2b2f31"/>
<rect x="924" y="459.8" width="3" height="5.5" fill="#c4262e"/>
<rect x="928" y="455.1" width="1" height="21.4" fill="#2b2f31"/>
<rect x="927" y="465.9" width="3" height="4.5" fill="#c4262e"/>
<rect x="931" y="408.8" width="1" height="73.9" fill="#2b2f31"/>
<rect x="930" y="411.2" width="3" height="60.2" fill="#007d8c"/>
<rect x="935" y="392.0" width="1" height="23.5" fill="#2b2f31"/>
<rect x="934" y="406.0" width="3" height="3.8" fill="#007d8c"/>
<rect x="938" y="378.9" width="1" height="44.1" fill="#2b2f31"/>
<rect x="937" y="404.2" width="3" height="1.9" fill="#007d8c"/>
<rect x="941" y="380.9" width="1" height="39.2" fill="#2b2f31"/>
<rect x="940" y="404.2" width="3" height="2.4" fill="#007d8c"/>
<rect x="945" y="343.0" width="1" height="66.9" fill="#2b2f31"/>
<rect x="944" y="355.2" width="3" height="49.3" fill="#007d8c"/>
<rect x="948" y="346.0" width="1" height="18.7" fill="#2b2f31"/>
<rect x="947" y="355.2" width="3" height="4.4" fill="#c4262e"/>
<rect x="952" y="355.0" width="1" height="31.9" fill="#2b2f31"/>
<rect x="951" y="360.2" width="3" height="19.5" fill="#c4262e"/>
<rect x="955" y="372.9" width="1" height="22.0" fill="#2b2f31"/>
<rect x="954" y="380.1" width="3" height="3.0" fill="#007d8c"/>
<rect x="958" y="377.1" width="1" height="37.9" fill="#2b2f31"/>
<rect x="957" y="383.0" width="3" height="28.7" fill="#c4262e"/>
<rect x="962" y="409.2" width="1" height="49.6" fill="#2b2f31"/>
<rect x="961" y="412.2" width="3" height="34.3" fill="#c4262e"/>
<rect x="965" y="446.9" width="1" height="39.8" fill="#2b2f31"/>
<rect x="964" y="447.3" width="3" height="20.0" fill="#c4262e"/>
<rect x="968" y="466.3" width="1" height="17.3" fill="#2b2f31"/>
<rect x="967" y="468.4" width="3" height="6.1" fill="#c4262e"/>
<rect x="972" y="451.0" width="1" height="29.6" fill="#2b2f31"/>
<rect x="971" y="457.1" width="3" height="16.3" fill="#007d8c"/>
<rect x="975" y="458.2" width="1" height="44.5" fill="#2b2f31"/>
<rect x="974" y="458.2" width="3" height="30.6" fill="#c4262e"/>
<rect x="978" y="478.2" width="1" height="59.6" fill="#2b2f31"/>
<rect x="977" y="487.3" width="3" height="2.0" fill="#c4262e"/>
<rect x="982" y="460.2" width="1" height="39.8" fill="#2b2f31"/>
<rect x="981" y="483.1" width="3" height="6.7" fill="#007d8c"/>
<rect x="985" y="401.0" width="1" height="98.6" fill="#2b2f31"/>
<rect x="984" y="410.2" width="3" height="71.4" fill="#007d8c"/>
<rect x="989" y="407.2" width="1" height="16.0" fill="#2b2f31"/>
<rect x="988" y="410.3" width="3" height="3.7" fill="#c4262e"/>
<rect x="992" y="401.1" width="1" height="22.0" fill="#2b2f31"/>
<rect x="991" y="413.4" width="3" height="2.7" fill="#007d8c"/>
<rect x="995" y="406.2" width="1" height="19.0" fill="#2b2f31"/>
<rect x="994" y="413.4" width="3" height="2.7" fill="#c4262e"/>
<rect x="999" y="407.2" width="1" height="37.1" fill="#2b2f31"/>
<rect x="998" y="409.3" width="3" height="11.8" fill="#007d8c"/>
<rect x="1002" y="388.3" width="1" height="43.1" fill="#2b2f31"/>
<rect x="1001" y="408.9" width="3" height="2.0" fill="#c4262e"/>
<rect x="1005" y="405.2" width="1" height="29.0" fill="#2b2f31"/>
<rect x="1004" y="410.3" width="3" height="7.8" fill="#c4262e"/>
<rect x="1009" y="415.0" width="1" height="25.3" fill="#2b2f31"/>
<rect x="1008" y="416.8" width="3" height="18.0" fill="#c4262e"/>
<rect x="1012" y="402.1" width="1" height="51.6" fill="#2b2f31"/>
<rect x="1011" y="404.2" width="3" height="30.6" fill="#007d8c"/>
<rect x="1016" y="401.1" width="1" height="15.3" fill="#2b2f31"/>
<rect x="1015" y="403.6" width="3" height="2.0" fill="#c4262e"/>
<rect x="1019" y="400.1" width="1" height="44.3" fill="#2b2f31"/>
<rect x="1018" y="403.6" width="3" height="27.1" fill="#c4262e"/>
<rect x="1022" y="423.6" width="1" height="28.6" fill="#2b2f31"/>
<rect x="1021" y="430.3" width="3" height="6.9" fill="#c4262e"/>
<rect x="1026" y="417.0" width="1" height="20.8" fill="#2b2f31"/>
<rect x="1025" y="429.1" width="3" height="8.2" fill="#007d8c"/>
<rect x="1029" y="418.9" width="1" height="17.6" fill="#2b2f31"/>
<rect x="1028" y="429.3" width="3" height="4.1" fill="#c4262e"/>
<rect x="1032" y="426.0" width="1" height="15.9" fill="#2b2f31"/>
<rect x="1031" y="433.2" width="3" height="3.1" fill="#007d8c"/>
<rect x="1036" y="418.9" width="1" height="15.9" fill="#2b2f31"/>
<rect x="1035" y="426.0" width="3" height="8.2" fill="#007d8c"/>
<rect x="1039" y="408.9" width="1" height="49.0" fill="#2b2f31"/>
<rect x="1038" y="429.1" width="3" height="14.9" fill="#c4262e"/>
<rect x="1043" y="411.9" width="1" height="34.5" fill="#2b2f31"/>
<rect x="1042" y="424.2" width="3" height="20.8" fill="#007d8c"/>
<rect x="1046" y="416.4" width="1" height="32.7" fill="#2b2f31"/>
<rect x="1045" y="425.2" width="3" height="21.8" fill="#c4262e"/>
<rect x="1049" y="444.0" width="1" height="21.0" fill="#2b2f31"/>
<rect x="1048" y="447.0" width="3" height="15.9" fill="#c4262e"/>
<rect x="1053" y="441.9" width="1" height="30.0" fill="#2b2f31"/>
<rect x="1052" y="442.3" width="3" height="20.6" fill="#007d8c"/>
<rect x="1056" y="425.2" width="1" height="38.2" fill="#2b2f31"/>
<rect x="1055" y="443.0" width="3" height="5.7" fill="#c4262e"/>
<rect x="1059" y="410.7" width="1" height="53.3" fill="#2b2f31"/>
<rect x="1058" y="411.3" width="3" height="36.7" fill="#007d8c"/>
<rect x="1063" y="368.1" width="1" height="59.6" fill="#2b2f31"/>
<rect x="1062" y="375.2" width="3" height="36.5" fill="#007d8c"/>
<rect x="1066" y="351.8" width="1" height="26.9" fill="#2b2f31"/>
<rect x="1065" y="352.9" width="3" height="21.8" fill="#007d8c"/>
<rect x="1069" y="326.7" width="1" height="27.1" fill="#2b2f31"/>
<rect x="1068" y="332.2" width="3" height="21.0" fill="#007d8c"/>
<rect x="1073" y="309.4" width="1" height="24.1" fill="#2b2f31"/>
<rect x="1072" y="312.0" width="3" height="20.2" fill="#007d8c"/>
<rect x="1076" y="310.0" width="1" height="157.0" fill="#2b2f31"/>
<rect x="1075" y="312.0" width="3" height="125.8" fill="#c4262e"/>
<rect x="1080" y="434.2" width="1" height="54.7" fill="#2b2f31"/>
<rect x="1079" y="436.2" width="3" height="26.7" fill="#c4262e"/>
<rect x="1083" y="379.1" width="1" height="170.8" fill="#2b2f31"/>
<rect x="1082" y="463.0" width="3" height="18.2" fill="#c4262e"/>
<rect x="1086" y="390.3" width="1" height="103.7" fill="#2b2f31"/>
<rect x="1085" y="426.0" width="3" height="55.7" fill="#007d8c"/>
<rect x="1090" y="385.2" width="1" height="51.0" fill="#2b2f31"/>
<rect x="1089" y="389.0" width="3" height="37.8" fill="#007d8c"/>
<rect x="1093" y="326.7" width="1" height="61.8" fill="#2b2f31"/>
<rect x="1092" y="331.2" width="3" height="57.3" fill="#007d8c"/>
<rect x="1096" y="323.7" width="1" height="23.5" fill="#2b2f31"/>
<rect x="1095" y="332.4" width="3" height="2.4" fill="#c4262e"/>
<rect x="1100" y="284.9" width="1" height="70.8" fill="#2b2f31"/>
<rect x="1099" y="292.0" width="3" height="48.0" fill="#007d8c"/>
<rect x="1103" y="277.8" width="1" height="71.8" fill="#2b2f31"/>
<rect x="1102" y="293.1" width="3" height="47.6" fill="#c4262e"/>
<rect x="1107" y="283.5" width="1" height="61.2" fill="#2b2f31"/>
<rect x="1106" y="291.0" width="3" height="49.6" fill="#007d8c"/>
<rect x="1110" y="282.9" width="1" height="16.3" fill="#2b2f31"/>
<rect x="1109" y="283.9" width="3" height="7.8" fill="#007d8c"/>
<rect x="1113" y="282.9" width="1" height="17.8" fill="#2b2f31"/>
<rect x="1112" y="284.9" width="3" height="11.6" fill="#c4262e"/>
<rect x="1117" y="288.0" width="1" height="18.8" fill="#2b2f31"/>
<rect x="1116" y="297.6" width="3" height="2.2" fill="#007d8c"/>
<rect x="1120" y="288.4" width="1" height="26.1" fill="#2b2f31"/>
<rect x="1119" y="288.4" width="3" height="6.7" fill="#007d8c"/>
<rect x="1123" y="261.4" width="1" height="35.3" fill="#2b2f31"/>
<rect x="1122" y="268.2" width="3" height="20.4" fill="#007d8c"/>
<rect x="1127" y="261.4" width="1" height="31.2" fill="#2b2f31"/>
<rect x="1126" y="268.2" width="3" height="17.8" fill="#c4262e"/>
<rect x="1130" y="282.9" width="1" height="17.8" fill="#2b2f31"/>
<rect x="1129" y="285.9" width="3" height="9.2" fill="#c4262e"/>
<rect x="1133" y="289.0" width="1" height="35.7" fill="#2b2f31"/>
<rect x="1132" y="296.1" width="3" height="10.6" fill="#c4262e"/>
<rect x="1137" y="300.2" width="1" height="18.4" fill="#2b2f31"/>
<rect x="1136" y="306.3" width="3" height="7.6" fill="#c4262e"/>
<rect x="1140" y="318.6" width="1" height="49.4" fill="#2b2f31"/>
<rect x="1139" y="319.6" width="3" height="27.1" fill="#c4262e"/>
<rect x="1144" y="333.3" width="1" height="88.4" fill="#2b2f31"/>
<rect x="1143" y="348.2" width="3" height="72.4" fill="#c4262e"/>
<rect x="1147" y="401.2" width="1" height="85.5" fill="#2b2f31"/>
<rect x="1146" y="422.0" width="3" height="42.4" fill="#c4262e"/>
<rect x="1150" y="429.8" width="1" height="41.8" fill="#2b2f31"/>
<rect x="1149" y="442.4" width="3" height="21.0" fill="#007d8c"/>
<rect x="1154" y="426.1" width="1" height="65.7" fill="#2b2f31"/>
<rect x="1153" y="442.4" width="3" height="41.2" fill="#c4262e"/>
<rect x="1157" y="473.1" width="1" height="28.0" fill="#2b2f31"/>
<rect x="1156" y="483.7" width="3" height="15.9" fill="#c4262e"/>
<rect x="1160" y="465.3" width="1" height="49.6" fill="#2b2f31"/>
<rect x="1159" y="495.5" width="3" height="6.1" fill="#c4262e"/>
<rect x="1164" y="468.4" width="1" height="63.5" fill="#2b2f31"/>
<rect x="1163" y="502.7" width="3" height="4.1" fill="#c4262e"/>
<rect x="1167" y="486.3" width="1" height="129.6" fill="#2b2f31"/>
<rect x="1166" y="507.3" width="3" height="93.3" fill="#c4262e"/>
<rect x="1171" y="582.2" width="1" height="21.8" fill="#2b2f31"/>
<rect x="1170" y="594.5" width="3" height="5.5" fill="#007d8c"/>
<rect x="1174" y="554.7" width="1" height="53.1" fill="#2b2f31"/>
<rect x="1173" y="556.1" width="3" height="38.8" fill="#007d8c"/>
<rect x="1177" y="546.1" width="1" height="26.5" fill="#2b2f31"/>
<rect x="1176" y="555.3" width="3" height="13.3" fill="#c4262e"/>
<rect x="1181" y="495.1" width="1" height="80.4" fill="#2b2f31"/>
<rect x="1180" y="498.2" width="3" height="72.4" fill="#007d8c"/>
<rect x="1184" y="496.1" width="1" height="43.7" fill="#2b2f31"/>
<rect x="1183" y="499.6" width="3" height="26.9" fill="#c4262e"/>
<rect x="1187" y="504.3" width="1" height="40.6" fill="#2b2f31"/>
<rect x="1186" y="516.5" width="3" height="11.2" fill="#007d8c"/>
<rect x="1191" y="509.2" width="1" height="54.7" fill="#2b2f31"/>
<rect x="1190" y="516.5" width="3" height="21.2" fill="#c4262e"/>
<rect x="1194" y="493.1" width="1" height="58.6" fill="#2b2f31"/>
<rect x="1193" y="496.1" width="3" height="41.6" fill="#007d8c"/>
<rect x="1198" y="494.5" width="1" height="66.3" fill="#2b2f31"/>
<rect x="1197" y="495.5" width="3" height="63.7" fill="#c4262e"/>
<rect x="1201" y="552.2" width="1" height="38.6" fill="#2b2f31"/>
<rect x="1200" y="560.4" width="3" height="2.0" fill="#007d8c"/>
<rect x="1204" y="498.0" width="1" height="70.0" fill="#2b2f31"/>
<rect x="1203" y="509.2" width="3" height="51.2" fill="#007d8c"/>
<rect x="1208" y="480.8" width="1" height="36.7" fill="#2b2f31"/>
<rect x="1207" y="503.3" width="3" height="5.5" fill="#007d8c"/>
<rect x="1211" y="480.6" width="1" height="28.2" fill="#2b2f31"/>
<rect x="1210" y="486.3" width="3" height="17.3" fill="#007d8c"/>
<rect x="1214" y="471.0" width="1" height="34.7" fill="#2b2f31"/>
<rect x="1213" y="474.1" width="3" height="12.2" fill="#007d8c"/>
<rect x="1218" y="463.9" width="1" height="16.9" fill="#2b2f31"/>
<rect x="1217" y="468.4" width="3" height="6.3" fill="#007d8c"/>
<rect x="1221" y="449.0" width="1" height="34.7" fill="#2b2f31"/>
<rect x="1220" y="451.2" width="3" height="18.4" fill="#007d8c"/>
<rect x="1224" y="446.9" width="1" height="59.8" fill="#2b2f31"/>
<rect x="1223" y="451.2" width="3" height="33.5" fill="#c4262e"/>
<rect x="1228" y="469.0" width="1" height="39.4" fill="#2b2f31"/>
<rect x="1227" y="484.3" width="3" height="11.2" fill="#c4262e"/>
<rect x="1231" y="494.5" width="1" height="29.2" fill="#2b2f31"/>
<rect x="1230" y="495.1" width="3" height="11.6" fill="#c4262e"/>
<rect x="1235" y="503.7" width="1" height="29.0" fill="#2b2f31"/>
<rect x="1234" y="507.3" width="3" height="2.4" fill="#c4262e"/>
<rect x="1238" y="485.7" width="1" height="26.1" fill="#2b2f31"/>
<rect x="1237" y="492.0" width="3" height="17.3" fill="#007d8c"/>
<rect x="1241" y="479.2" width="1" height="34.7" fill="#2b2f31"/>
<rect x="1240" y="489.8" width="3" height="1.6" fill="#c4262e"/>
<rect x="1245" y="472.0" width="1" height="45.9" fill="#2b2f31"/>
<rect x="1244" y="491.0" width="3" height="15.7" fill="#c4262e"/>
<rect x="1248" y="482.2" width="1" height="30.6" fill="#2b2f31"/>
<rect x="1247" y="484.3" width="3" height="22.4" fill="#007d8c"/>
<rect x="1251" y="483.9" width="1" height="24.3" fill="#2b2f31"/>
<rect x="1250" y="485.3" width="3" height="20.4" fill="#c4262e"/>
<rect x="1255" y="497.1" width="1" height="43.7" fill="#2b2f31"/>
<rect x="1254" y="506.3" width="3" height="18.2" fill="#c4262e"/>
<rect x="1258" y="500.2" width="1" height="28.6" fill="#2b2f31"/>
<rect x="1257" y="516.3" width="3" height="8.2" fill="#007d8c"/>
<rect x="1262" y="502.7" width="1" height="45.3" fill="#2b2f31"/>
<rect x="1261" y="505.3" width="3" height="14.3" fill="#007d8c"/>
<rect x="1265" y="464.9" width="1" height="54.5" fill="#2b2f31"/>
<rect x="1264" y="467.3" width="3" height="38.0" fill="#007d8c"/>
<rect x="1268" y="431.2" width="1" height="37.8" fill="#2b2f31"/>
<rect x="1267" y="446.1" width="3" height="22.4" fill="#007d8c"/>
<rect x="1272" y="427.9" width="1" height="29.0" fill="#2b2f31"/>
<rect x="1271" y="428.5" width="3" height="17.8" fill="#007d8c"/>
<rect x="1275" y="390.1" width="1" height="52.0" fill="#2b2f31"/>
<rect x="1274" y="428.5" width="3" height="11.2" fill="#c4262e"/>
<rect x="1278" y="431.9" width="1" height="21.8" fill="#2b2f31"/>
<rect x="1277" y="439.1" width="3" height="9.6" fill="#c4262e"/>
<rect x="1282" y="414.2" width="1" height="37.8" fill="#2b2f31"/>
<rect x="1281" y="415.2" width="3" height="34.7" fill="#007d8c"/>
<rect x="1285" y="411.1" width="1" height="24.9" fill="#2b2f31"/>
<rect x="1284" y="414.2" width="3" height="19.8" fill="#c4262e"/>
<rect x="1288" y="421.1" width="1" height="24.1" fill="#2b2f31"/>
<rect x="1287" y="434.0" width="3" height="6.5" fill="#c4262e"/>
<rect x="1292" y="432.6" width="1" height="23.9" fill="#2b2f31"/>
<rect x="1291" y="440.1" width="3" height="14.9" fill="#c4262e"/>
<rect x="1295" y="431.9" width="1" height="33.1" fill="#2b2f31"/>
<rect x="1294" y="455.0" width="3" height="2.9" fill="#c4262e"/>
<rect x="1299" y="450.7" width="1" height="13.9" fill="#2b2f31"/>
<rect x="1298" y="456.0" width="3" height="2.4" fill="#007d8c"/>
<rect x="1302" y="430.9" width="1" height="51.0" fill="#2b2f31"/>
<rect x="1301" y="458.5" width="3" height="20.4" fill="#c4262e"/>
<rect x="1305" y="474.2" width="1" height="72.0" fill="#2b2f31"/>
<rect x="1304" y="479.5" width="3" height="65.3" fill="#c4262e"/>
<rect x="1309" y="498.3" width="1" height="48.0" fill="#2b2f31"/>
<rect x="1308" y="512.1" width="3" height="31.6" fill="#007d8c"/>
<rect x="1312" y="506.0" width="1" height="28.0" fill="#2b2f31"/>
<rect x="1311" y="512.1" width="3" height="14.7" fill="#c4262e"/>
<rect x="1315" y="499.9" width="1" height="37.1" fill="#2b2f31"/>
<rect x="1314" y="508.1" width="3" height="17.8" fill="#007d8c"/>
<rect x="1319" y="490.1" width="1" height="21.8" fill="#2b2f31"/>
<rect x="1318" y="492.1" width="3" height="15.9" fill="#007d8c"/>
<rect x="1322" y="473.2" width="1" height="23.1" fill="#2b2f31"/>
<rect x="1321" y="489.5" width="3" height="5.1" fill="#007d8c"/>
<rect x="1326" y="478.3" width="1" height="30.6" fill="#2b2f31"/>
<rect x="1325" y="488.5" width="3" height="6.1" fill="#c4262e"/>
<rect x="1329" y="494.2" width="1" height="48.0" fill="#2b2f31"/>
<rect x="1328" y="494.6" width="3" height="37.3" fill="#c4262e"/>
<rect x="1332" y="530.9" width="1" height="28.0" fill="#2b2f31"/>
<rect x="1331" y="531.9" width="3" height="11.8" fill="#c4262e"/>
<rect x="1336" y="530.9" width="1" height="37.8" fill="#2b2f31"/>
<rect x="1335" y="543.6" width="3" height="15.3" fill="#c4262e"/>
<rect x="1339" y="553.3" width="1" height="20.4" fill="#2b2f31"/>
<rect x="1338" y="559.4" width="3" height="9.2" fill="#c4262e"/>
<rect x="1342" y="553.9" width="1" height="45.3" fill="#2b2f31"/>
<rect x="1341" y="567.6" width="3" height="9.2" fill="#c4262e"/>
<rect x="1346" y="559.8" width="1" height="30.2" fill="#2b2f31"/>
<rect x="1345" y="576.3" width="3" height="5.5" fill="#c4262e"/>
<rect x="1349" y="567.1" width="1" height="41.6" fill="#2b2f31"/>
<rect x="1348" y="574.3" width="3" height="8.0" fill="#007d8c"/>
<rect x="1353" y="573.3" width="1" height="24.5" fill="#2b2f31"/>
<rect x="1352" y="574.3" width="3" height="21.8" fill="#c4262e"/>
<rect x="1356" y="577.1" width="1" height="22.4" fill="#2b2f31"/>
<rect x="1355" y="596.1" width="3" height="3.1" fill="#c4262e"/>
<rect x="1359" y="587.3" width="1" height="36.7" fill="#2b2f31"/>
<rect x="1358" y="599.2" width="3" height="21.4" fill="#c4262e"/>
<rect x="1363" y="615.5" width="1" height="53.5" fill="#2b2f31"/>
<rect x="1362" y="616.5" width="3" height="44.3" fill="#c4262e"/>
<rect x="1366" y="611.4" width="1" height="78.6" fill="#2b2f31"/>
<rect x="1365" y="628.4" width="3" height="32.4" fill="#007d8c"/>
<rect x="1369" y="597.1" width="1" height="48.6" fill="#2b2f31"/>
<rect x="1368" y="610.4" width="3" height="16.3" fill="#007d8c"/>
<rect x="1373" y="594.1" width="1" height="16.9" fill="#2b2f31"/>
<rect x="1372" y="605.3" width="3" height="5.1" fill="#007d8c"/>
<rect x="1376" y="603.9" width="1" height="36.1" fill="#2b2f31"/>
<rect x="1375" y="605.3" width="3" height="17.3" fill="#c4262e"/>
<rect x="1379" y="621.6" width="1" height="60.2" fill="#2b2f31"/>
<rect x="1378" y="622.7" width="3" height="59.2" fill="#c4262e"/>
<rect x="1383" y="655.3" width="1" height="48.0" fill="#2b2f31"/>
<rect x="1382" y="678.4" width="3" height="2.9" fill="#007d8c"/>
<rect x="1386" y="623.1" width="1" height="59.2" fill="#2b2f31"/>
<rect x="1385" y="664.1" width="3" height="13.7" fill="#007d8c"/>
<rect x="1390" y="649.2" width="1" height="37.8" fill="#2b2f31"/>
<rect x="1389" y="656.3" width="3" height="7.6" fill="#007d8c"/>
<rect x="1393" y="654.3" width="1" height="31.0" fill="#2b2f31"/>
<rect x="1392" y="656.3" width="3" height="21.4" fill="#c4262e"/>
<rect x="1396" y="651.2" width="1" height="41.8" fill="#2b2f31"/>
<rect x="1395" y="656.9" width="3" height="20.8" fill="#007d8c"/>
<rect x="1400" y="640.0" width="1" height="30.0" fill="#2b2f31"/>
<rect x="1399" y="652.9" width="3" height="6.1" fill="#007d8c"/>
<rect x="1403" y="607.3" width="1" height="45.5" fill="#2b2f31"/>
<rect x="1402" y="618.2" width="3" height="34.7" fill="#007d8c"/>
<rect x="1406" y="595.1" width="1" height="74.9" fill="#2b2f31"/>
<rect x="1405" y="619.2" width="3" height="10.6" fill="#c4262e"/>
<rect x="1410" y="606.3" width="1" height="42.4" fill="#2b2f31"/>
<rect x="1409" y="610.0" width="3" height="18.8" fill="#007d8c"/>
<rect x="1413" y="599.2" width="1" height="15.3" fill="#2b2f31"/>
<rect x="1412" y="610.4" width="3" height="2.4" fill="#c4262e"/>
<rect x="1417" y="601.2" width="1" height="24.1" fill="#2b2f31"/>
<rect x="1416" y="606.3" width="3" height="6.1" fill="#007d8c"/>
<rect x="1420" y="579.8" width="1" height="29.6" fill="#2b2f31"/>
<rect x="1419" y="585.3" width="3" height="22.0" fill="#007d8c"/>
<rect x="1423" y="571.2" width="1" height="23.5" fill="#2b2f31"/>
<rect x="1422" y="579.2" width="3" height="6.7" fill="#007d8c"/>
<rect x="1427" y="576.7" width="1" height="36.1" fill="#2b2f31"/>
<rect x="1426" y="578.2" width="3" height="13.5" fill="#c4262e"/>
<rect x="1430" y="553.3" width="1" height="37.8" fill="#2b2f31"/>
<rect x="1429" y="559.4" width="3" height="31.2" fill="#007d8c"/>
<rect x="1433" y="547.1" width="1" height="16.3" fill="#2b2f31"/>
<rect x="1432" y="558.4" width="3" height="2.7" fill="#007d8c"/>
<rect x="1437" y="554.3" width="1" height="43.3" fill="#2b2f31"/>
<rect x="1436" y="557.3" width="3" height="31.6" fill="#c4262e"/>
<rect x="1440" y="582.9" width="1" height="21.0" fill="#2b2f31"/>
<rect x="1439" y="589.0" width="3" height="12.9" fill="#c4262e"/>
<rect x="1443" y="566.1" width="1" height="44.9" fill="#2b2f31"/>
<rect x="1442" y="569.2" width="3" height="31.6" fill="#007d8c"/>
<rect x="1447" y="556.3" width="1" height="21.0" fill="#2b2f31"/>
<rect x="1446" y="568.6" width="3" height="2.4" fill="#007d8c"/>
<rect x="1450" y="545.1" width="1" height="24.1" fill="#2b2f31"/>
<rect x="1449" y="561.0" width="3" height="7.6" fill="#007d8c"/>
<rect x="1454" y="554.9" width="1" height="26.9" fill="#2b2f31"/>
<rect x="1453" y="560.4" width="3" height="18.4" fill="#c4262e"/>
<rect x="1457" y="551.8" width="1" height="32.0" fill="#2b2f31"/>
<rect x="1456" y="561.8" width="3" height="18.0" fill="#007d8c"/>
<rect x="1460" y="510.4" width="1" height="52.0" fill="#2b2f31"/>
<rect x="1459" y="511.8" width="3" height="50.0" fill="#007d8c"/>
<rect x="1464" y="510.0" width="1" height="26.9" fill="#2b2f31"/>
<rect x="1463" y="515.1" width="3" height="15.7" fill="#c4262e"/>
<rect x="1467" y="498.2" width="1" height="43.3" fill="#2b2f31"/>
<rect x="1466" y="500.2" width="3" height="31.6" fill="#007d8c"/>
<rect x="1470" y="499.2" width="1" height="22.4" fill="#2b2f31"/>
<rect x="1469" y="500.2" width="3" height="20.4" fill="#c4262e"/>
<rect x="1474" y="518.0" width="1" height="15.5" fill="#2b2f31"/>
<rect x="1473" y="521.0" width="3" height="8.8" fill="#c4262e"/>
<rect x="1477" y="528.8" width="1" height="70.4" fill="#2b2f31"/>
<rect x="1476" y="529.8" width="3" height="56.7" fill="#c4262e"/>
<rect x="1481" y="582.2" width="1" height="33.3" fill="#2b2f31"/>
<rect x="1480" y="585.9" width="3" height="23.5" fill="#c4262e"/>
<rect x="1484" y="585.3" width="1" height="27.8" fill="#2b2f31"/>
<rect x="1483" y="601.2" width="3" height="11.2" fill="#007d8c"/>
<rect x="1487" y="588.4" width="1" height="39.4" fill="#2b2f31"/>
<rect x="1486" y="601.2" width="3" height="26.5" fill="#c4262e"/>
<rect x="1491" y="607.3" width="1" height="31.6" fill="#2b2f31"/>
<rect x="1490" y="612.0" width="3" height="14.7" fill="#007d8c"/>
<rect x="1494" y="595.1" width="1" height="25.5" fill="#2b2f31"/>
<rect x="1493" y="600.6" width="3" height="11.4" fill="#007d8c"/>
<rect x="1497" y="579.4" width="1" height="47.3" fill="#2b2f31"/>
<rect x="1496" y="595.5" width="3" height="5.1" fill="#007d8c"/>
<rect x="1501" y="573.3" width="1" height="34.5" fill="#2b2f31"/>
<rect x="1500" y="580.2" width="3" height="14.9" fill="#007d8c"/>
<rect x="1504" y="550.2" width="1" height="26.9" fill="#2b2f31"/>
<rect x="1503" y="551.8" width="3" height="24.5" fill="#007d8c"/>
<rect x="1508" y="516.1" width="1" height="35.1" fill="#2b2f31"/>
<rect x="1507" y="523.3" width="3" height="27.6" fill="#007d8c"/>
<rect x="1511" y="509.4" width="1" height="22.4" fill="#2b2f31"/>
<rect x="1510" y="523.3" width="3" height="2.4" fill="#007d8c"/>
<rect x="1514" y="503.9" width="1" height="25.9" fill="#2b2f31"/>
<rect x="1513" y="505.3" width="3" height="17.8" fill="#007d8c"/>
<rect x="1518" y="493.1" width="1" height="20.0" fill="#2b2f31"/>
<rect x="1517" y="497.8" width="3" height="7.6" fill="#007d8c"/>
<rect x="1521" y="488.0" width="1" height="25.1" fill="#2b2f31"/>
<rect x="1520" y="489.4" width="3" height="8.4" fill="#007d8c"/>
<rect x="1524" y="478.2" width="1" height="24.1" fill="#2b2f31"/>
<rect x="1523" y="489.4" width="3" height="2.0" fill="#007d8c"/>
<rect x="1528" y="489.0" width="1" height="27.6" fill="#2b2f31"/>
<rect x="1527" y="489.4" width="3" height="9.8" fill="#c4262e"/>
<rect x="1531" y="496.5" width="1" height="28.2" fill="#2b2f31"/>
<rect x="1530" y="498.2" width="3" height="20.4" fill="#c4262e"/>
<rect x="1534" y="506.3" width="1" height="13.3" fill="#2b2f31"/>
<rect x="1533" y="510.4" width="3" height="7.8" fill="#007d8c"/>
<rect x="1538" y="478.2" width="1" height="37.8" fill="#2b2f31"/>
<rect x="1537" y="479.2" width="3" height="31.6" fill="#007d8c"/>
<rect x="1541" y="465.1" width="1" height="14.7" fill="#2b2f31"/>
<rect x="1540" y="468.2" width="3" height="11.2" fill="#007d8c"/>
<rect x="1545" y="458.8" width="1" height="23.1" fill="#2b2f31"/>
<rect x="1544" y="469.2" width="3" height="7.6" fill="#c4262e"/>
<rect x="1548" y="443.1" width="1" height="42.9" fill="#2b2f31"/>
<rect x="1547" y="475.1" width="3" height="2.7" fill="#007d8c"/>
<rect x="1551" y="471.6" width="1" height="36.7" fill="#2b2f31"/>
<rect x="1550" y="474.3" width="3" height="33.5" fill="#c4262e"/>
<rect x="1555" y="489.0" width="1" height="26.5" fill="#2b2f31"/>
<rect x="1554" y="492.7" width="3" height="15.1" fill="#007d8c"/>
<rect x="1558" y="477.8" width="1" height="38.2" fill="#2b2f31"/>
<rect x="1557" y="481.4" width="3" height="12.0" fill="#007d8c"/>
<rect x="1561" y="472.0" width="1" height="19.0" fill="#2b2f31"/>
<rect x="1560" y="474.1" width="3" height="7.3" fill="#007d8c"/>
<rect x="1565" y="457.3" width="1" height="28.6" fill="#2b2f31"/>
<rect x="1564" y="465.1" width="3" height="9.6" fill="#007d8c"/>
<rect x="1568" y="417.2" width="1" height="51.5" fill="#2b2f31"/>
<rect x="1567" y="425.1" width="3" height="38.7" fill="#007d8c"/>
<rect x="1572" y="417.2" width="1" height="28.8" fill="#2b2f31"/>
<rect x="1571" y="426.1" width="3" height="11.9" fill="#c4262e"/>
<rect x="1575" y="424.6" width="1" height="23.1" fill="#2b2f31"/>
<rect x="1574" y="429.1" width="3" height="9.0" fill="#007d8c"/>
<rect x="1578" y="417.9" width="1" height="59.0" fill="#2b2f31"/>
<rect x="1577" y="429.9" width="3" height="40.7" fill="#c4262e"/>
<rect x="1582" y="449.3" width="1" height="22.8" fill="#2b2f31"/>
<rect x="1581" y="456.0" width="3" height="14.2" fill="#007d8c"/>
<rect x="1585" y="402.2" width="1" height="60.4" fill="#2b2f31"/>
<rect x="1584" y="406.0" width="3" height="44.8" fill="#007d8c"/>
<rect x="1588" y="388.1" width="1" height="21.6" fill="#2b2f31"/>
<rect x="1587" y="400.3" width="3" height="6.4" fill="#007d8c"/>
<rect x="1592" y="398.1" width="1" height="29.9" fill="#2b2f31"/>
<rect x="1591" y="400.3" width="3" height="18.4" fill="#c4262e"/>
<rect x="1595" y="410.1" width="1" height="18.7" fill="#2b2f31"/>
<rect x="1594" y="419.0" width="3" height="1.0" fill="#222"/>
<rect x="1598" y="404.0" width="1" height="31.0" fill="#2b2f31"/>
<rect x="1597" y="411.9" width="3" height="7.0" fill="#007d8c"/>
<rect x="1602" y="403.0" width="1" height="15.7" fill="#2b2f31"/>
<rect x="1601" y="408.2" width="3" height="4.5" fill="#007d8c"/>
<rect x="1605" y="384.0" width="1" height="29.9" fill="#2b2f31"/>
<rect x="1604" y="393.3" width="3" height="15.7" fill="#007d8c"/>
<rect x="1609" y="375.1" width="1" height="26.9" fill="#2b2f31"/>
<rect x="1608" y="385.1" width="3" height="7.9" fill="#007d8c"/>
<rect x="1612" y="360.7" width="1" height="27.0" fill="#2b2f31"/>
<rect x="1611" y="363.1" width="3" height="21.5" fill="#007d8c"/>
</g>
<rect x="706.5" y="189.5" width="957.5" height="4.300000000000011" fill="rgba(255,255,255,0.4)" stroke="#333" stroke-width="1"/>
<rect x="1123.5" y="258.5" width="540.5" height="3.8999999999999773" fill="rgba(255,255,255,0.4)" stroke="#333" stroke-width="1"/>
<rect x="1470.5" y="494.7" width="193.5" height="4.300000000000011" fill="rgba(255,255,255,0.4)" stroke="#0a0a0a" stroke-width="1.1"/>
<rect x="1383.5" y="699.5" width="280.5" height="4.399999999999977" fill="rgba(255,255,255,0.4)" stroke="#1a1a1a" stroke-width="1.15"/>
<line x1="704.7" y1="171.9" x2="1625.9" y2="361.9" stroke="#ff7f0e" stroke-width="4" stroke-linecap="round"/>
<line x1="637.7" y1="554.1" x2="1559" y2="744" stroke="#ff7f0e" stroke-width="4" stroke-linecap="round"/>
<defs><filter id="ds" x="-30%" y="-30%" width="160%" height="160%"><feDropShadow dx="0.6" dy="0.6" stdDeviation="0.7" flood-color="#000" flood-opacity="0.45"/></filter></defs>
<polygon points="1650.5,329.8 1658.5,288.5 1654.3,288.7 1666.7,277 1670.9,294 1667.5,290.9" fill="#2a6587" filter="url(#ds)"/>
<polygon points="1649.8,382 1656.7,429 1652.8,428.3 1664.4,440.5 1669.8,424.1 1666.3,426.9" fill="#fe0000" filter="url(#ds)"/>
<path d="M1861.2 363.4L1870 355.4H1905.4Q1907 355.4 1907 357V369.8Q1907 371.4 1905.4 371.4H1870Z" fill="#5f58a8"/>
<text x="1889" y="367.2" font-family="Liberation Sans, sans-serif" font-size="10.3" font-weight="bold" fill="#fff" text-anchor="middle">32970</text>
</svg>
<div id="titlebar"><div class="fav">S</div><div class="ttl">Japan 225, Daily - Google Chrome</div>
<svg width="1910" height="22" style="left:0;top:0"><g stroke="#aaa" stroke-width="1" fill="none"><line x1="1800" x2="1810" y1="10.5" y2="10.5"/><rect x="1846.5" y="8.5" width="7" height="6"/><polyline points="1848.5,8.5 1848.5,6.5 1855.5,6.5 1855.5,12.5 1853.5,12.5"/><line x1="1892" y1="5" x2="1902" y2="15"/><line x1="1902" y1="5" x2="1892" y2="15"/></g></svg></div>
<div id="urlbar"><svg width="30" height="35" style="left:0;top:0"><rect x="13.5" y="16" width="8" height="6.5" rx="1" fill="#9aa0a6"/><path d="M15.3 16v-2.2a2.2 2.2 0 0 1 4.4 0V16" fill="none" stroke="#9aa0a6" stroke-width="1.4"/></svg>
<div class="url"><b>financials.spreadex.com</b>/en-GB/Home/LiveChartMain?id=XFinSprMchMkt|527846&amp;name=Japan%20225,%20Daily&amp;temp=autogen_527846_1693809823733</div></div>
<div id="toolbar">
<div class="mi" style="left:12px">4 hours</div><div class="car" style="left:63px"></div>
<div class="mi" style="left:90px">Technical</div><div class="car" style="left:154px"></div>
<div class="mi" style="left:181px">Display</div><div class="car" style="left:232px"></div>
<div class="mi" style="left:259px">More</div><div class="car" style="left:297px"></div>
<svg width="460" height="40" style="left:0;top:0">
<path d="M324.400 26.200V15.200Q324.400 14.400 325.200 14.400H329.300L331.200 16.300H335.200Q335.900 16.300 335.900 17V18.600" fill="none" stroke="#444" stroke-width="0.9"/>
<path d="M329.200 19.200H338.700L335.700 26H325.900Z" fill="#333" stroke="#333" stroke-width="0.8" stroke-linejoin="round"/>
<path d="M356.400 12.700H366.800L370 15.900V26.700Q370 28 368.700 28H356.400Q355.100 28 355.100 26.700V14Q355.100 12.700 356.400 12.700Z M358.700 13.900V17.800H366.300V13.900Z M357.200 20.500V26H368.200V20.500Z" fill="#333" fill-rule="evenodd"/>
<rect x="363.500" y="14.500" width="1.700" height="2.500" fill="#333"/>
<g fill="#000">
<rect x="385" y="19" width="13" height="3"/>
<rect x="412.900" y="18.800" width="13.200" height="3"/><rect x="417.900" y="14.100" width="3.100" height="12.800"/>
</g></svg>
</div>
<div id="name" style="z-index:3">JAPAN 225, DAILY</div>
<div class="yl" style="top:939.5px;z-index:3">30000</div>
<div class="yl" style="top:841.5px;z-index:3">30500</div>
<div class="yl" style="top:743.5px;z-index:3">31000</div>
<div class="yl" style="top:645.5px;z-index:3">31500</div>
<div class="yl" style="top:547.5px;z-index:3">32000</div>
<div class="yl" style="top:449.5px;z-index:3">32500</div>
<div class="yl" style="top:351.5px;z-index:3">33000</div>
<div class="yl" style="top:252.5px;z-index:3">33500</div>
<div class="yl" style="top:154.5px;z-index:3">34000</div>
<div class="xl" style="left:99.5px;z-index:3">21</div>
<div class="xl" style="left:200.5px;z-index:3">28</div>
<div class="xl" style="left:259.5px;z-index:3">Jun</div>
<div class="xl" style="left:342.5px;z-index:3">7</div>
<div class="xl" style="left:443.5px;z-index:3">14</div>
<div class="xl" style="left:540.5px;z-index:3">21</div>
<div class="xl" style="left:642.5px;z-index:3">28</div>
<div class="xl" style="left:697.5px;z-index:3">Jul</div>
<div class="xl" style="left:780.5px;z-index:3">7</div>
<div class="xl" style="left:881.5px;z-index:3">14</div>
<div class="xl" style="left:982.5px;z-index:3">21</div>
<div class="xl" style="left:1122.5px;z-index:3">Aug</div>
<div class="xl" style="left:1204.5px;z-index:3">7</div>
<div class="xl" style="left:1305.5px;z-index:3">14</div>
<div class="xl" style="left:1406.5px;z-index:3">21</div>
<div class="xl" style="left:1508.5px;z-index:3">28</div>
<div class="xl" style="left:1587.5px;z-index:3">Sept</div>
<div class="xl" style="left:1666.5px;z-index:3">7</div>
<div class="xl" style="left:1807.5px;z-index:3">14</div>
<div id="stats" style="z-index:3">
<span class="g" style="left:10px;top:7.5px">TODAY:</span><span class="g" style="left:63px;top:7.5px">H:</span><span class="k" style="left:76px;top:7.5px">32980</span><span class="g" style="left:114px;top:7.5px">L:</span><span class="k" style="left:125px;top:7.5px">32602</span><span class="t" style="left:168px;top:7.5px">228</span><span class="t" style="left:204px;top:7.5px">0.7%</span>
<span class="g" style="left:10px;top:21.6px">CHART:</span><span class="g" style="left:63px;top:21.6px">H:</span><span class="k" style="left:76px;top:21.6px">34014</span><span class="g" style="left:114px;top:21.6px">L:</span><span class="k" style="left:125px;top:21.6px">29469</span><span class="t" style="left:168px;top:21.6px">3468</span><span class="t" style="left:204px;top:21.6px">11.8%</span>
</div>
<div id="dtools" style="z-index:3"></div>
<svg width="300" height="40" viewBox="1565 940 300 40" style="left:1565px;top:940px;z-index:4">
<g stroke="#5a5a5a" fill="none" stroke-width="1">
<polygon points="1575.200,956.300 1578.400,953.600 1583.800,959.200 1584.900,958.100 1587.300,965.700 1579.200,963.600 1580.800,962" fill="#5a5a5a" stroke="none"/>
<path d="M1600.500 965.500C1598.700 961.500 1600.500 959.300 1604.500 959.100C1609 958.900 1612.600 958.500 1612.400 953.100" stroke-width="2.500" stroke-linecap="round"/>
<g stroke-width="1.800"><line x1="1620" x2="1640" y1="950.900" y2="950.900"/><line x1="1620" x2="1640" y1="969" y2="969"/></g>
<g stroke-width="2.600" stroke-dasharray="4.500 2.900 5.500 2.600 4.500 100"><line x1="1620" x2="1640" y1="955" y2="955"/><line x1="1620" x2="1640" y1="965.200" y2="965.200"/></g>
<g stroke-width="2.600" stroke-dasharray="4.500 2.900 5.500 2.600 4.500 100" stroke="#cdcdcd"><line x1="1620" x2="1640" y1="960.300" y2="960.300"/></g>
<path d="M1644.700 950V969.300H1664M1644.700 969.300L1654.300 952.900M1644.700 969.300L1661.600 959.100" stroke-width="1.300"/>
<line x1="1668.200" x2="1688" y1="959.600" y2="959.600" stroke-width="1.200"/>
<line x1="1694.100" y1="952.100" x2="1709.500" y2="967.800" stroke-width="1.500"/><rect x="1692.100" y="950.100" width="4" height="4" fill="#5a5a5a" stroke="none" rx="0.800"/><rect x="1707.500" y="965.800" width="4" height="4" fill="#5a5a5a" stroke="none" rx="0.800"/>
<rect x="1718.500" y="952.500" width="15" height="15" stroke-width="1"/>
<line x1="1741" x2="1759" y1="963.600" y2="963.600" stroke-width="0.900"/>
<line x1="1767.100" y1="966.200" x2="1780.400" y2="953.100" stroke-width="1.200" stroke="#707070"/>
<line x1="1798" y1="951.200" x2="1798" y2="969.900" stroke-width="1.900" stroke="#8a8a8a"/>
<g transform="translate(1820.900 960.800) rotate(-45)"><rect x="-9.250" y="-2.850" width="18.500" height="5.700" fill="#5a5a5a" stroke="none"/><g stroke="#fff" stroke-width="0.800"><line x1="-7.400" x2="-7.400" y1="2.850" y2="0.300"/><line x1="-5.300" x2="-5.300" y1="2.850" y2="1.200"/><line x1="-3.200" x2="-3.200" y1="2.850" y2="0.300"/><line x1="-1.100" x2="-1.100" y1="2.850" y2="1.200"/><line x1="1" x2="1" y1="2.850" y2="0.300"/><line x1="3.100" x2="3.100" y1="2.850" y2="1.200"/><line x1="5.200" x2="5.200" y1="2.850" y2="0.300"/><line x1="7.300" x2="7.300" y1="2.850" y2="1.200"/></g></g>
<g stroke="#9a9a9a" stroke-width="2.400"><line x1="1837.900" y1="955.700" x2="1846.200" y2="964.400"/><line x1="1846.200" y1="955.700" x2="1837.900" y2="964.400"/></g>
</g>
<text x="1750" y="962" font-family="Liberation Sans, sans-serif" font-size="9.500" fill="#5a5a5a" text-anchor="middle">Abc</text>
</svg>
</body></html>
